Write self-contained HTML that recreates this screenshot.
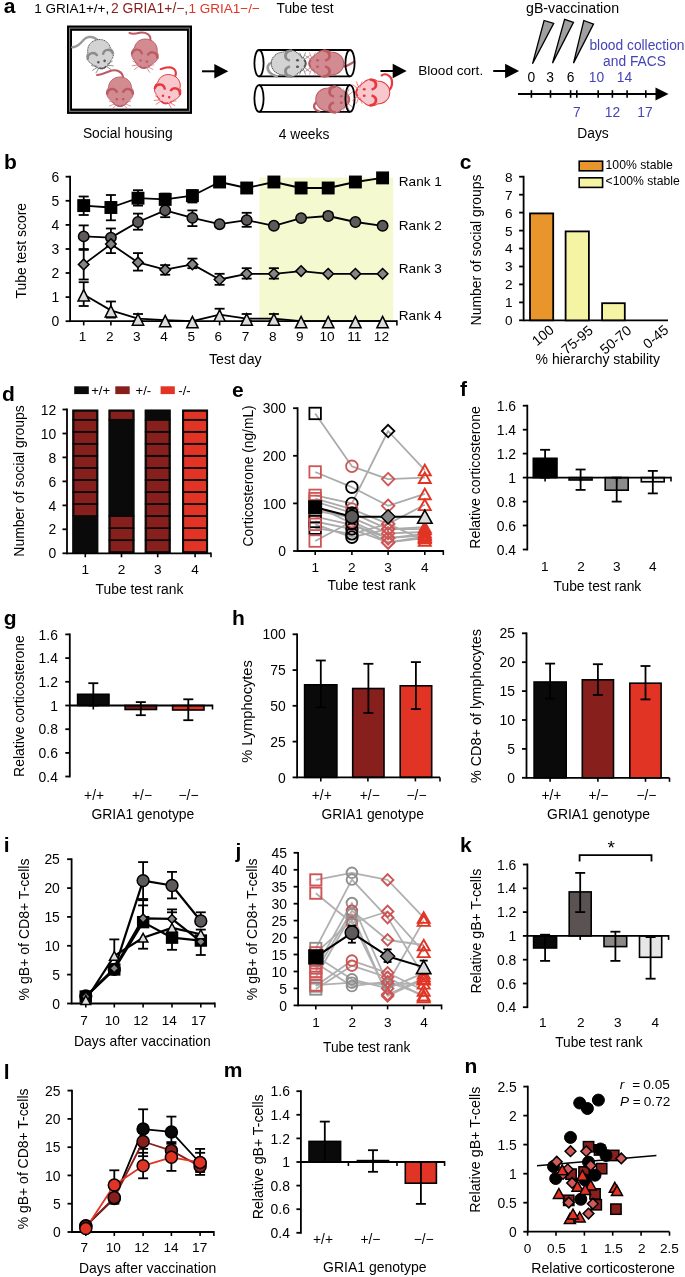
<!DOCTYPE html>
<html><head><meta charset="utf-8"><style>html,body{margin:0;padding:0;background:#fff;}svg{display:block;font-family:"Liberation Sans",sans-serif;will-change:transform;}</style></head><body>
<svg width="685" height="1277" viewBox="0 0 685 1277" font-family="Liberation Sans, sans-serif">
<rect x="0" y="0" width="685" height="1277" fill="#fff"/>
<text x="3.8" y="12.6" font-size="21" text-anchor="start" fill="#000" font-weight="bold">a</text>
<text y="12.9" font-size="13.5"><tspan x="34.2" fill="#000">1 GRIA1+/+,</tspan><tspan x="111.0" fill="#871f1d" font-size="13.9">2 GRIA1+/−,</tspan><tspan x="188.6" fill="#e13424">1 GRIA1−/−</tspan></text>
<text x="276.5" y="13.0" font-size="13.8" text-anchor="start" fill="#000">Tube test</text>
<text x="526.0" y="12.6" font-size="14.2" text-anchor="start" fill="#000">gB-vaccination</text>
<rect x="67.0" y="25.5" width="125.0" height="88.4" fill="#000" stroke="none" stroke-width="1.5"/>
<rect x="72.0" y="30.8" width="115.0" height="77.8" fill="#fff" stroke="none" stroke-width="1.5"/>
<rect x="69.6" y="28.1" width="119.8" height="83.2" fill="none" stroke="#8a8a8a" stroke-width="1"/>
<g transform="translate(100.0,54.5) rotate(-12) scale(1.0,1.0)">
<path d="M1,-14 C-3,-20 -9,-21 -14,-17 C-18,-14 -22,-12 -26,-13" fill="none" stroke="#9a9a9a" stroke-width="2.4" stroke-linecap="round" stroke-dasharray="1.2 0.6"/>
<path d="M0,-15 C7,-15 11.5,-10 11.5,-4 C13.5,-2.5 14,1.5 12.5,4.5 C11.5,6.5 10,7.5 9,8.5 C7,11.5 3.5,14.5 0,14.5 C-3.5,14.5 -7,11.5 -9,8.5 C-10,7.5 -11.5,6.5 -12.5,4.5 C-14,1.5 -13.5,-2.5 -11.5,-4 C-11.5,-10 -7,-15 0,-15 Z" fill="#d3d3d3" stroke="#555555" stroke-width="0.9" stroke-dasharray="1.2 0.6"/>
<path d="M-13,2.5 C-12.5,-4 -5,-5 -2.8,0.8" fill="none" stroke="#8a8a8a" stroke-width="2.4"/>
<path d="M13,2.5 C12.5,-4 5,-5 2.8,0.8" fill="none" stroke="#8a8a8a" stroke-width="2.4"/>
<circle cx="-3.2" cy="7.2" r="1.3" fill="#555555"/><circle cx="3.2" cy="7.2" r="1.3" fill="#555555"/>
<path d="M-3.5,12.8 Q0,15.5 3.5,12.8" fill="none" stroke="#555555" stroke-width="1.5"/>
<path d="M-5,11 L-11,9 M-5,12 L-11,14 M-4,13 L-8,17.5 M5,11 L11,9 M5,12 L11,14 M4,13 L8,17.5" stroke="#555555" stroke-width="0.6" fill="none"/>
</g>
<g transform="translate(145.0,54.0) rotate(10) scale(1.0,1.0)">
<path d="M3,-14 C3,-20 -3,-22 -9,-20 C-13,-18 -16,-17 -19,-18" fill="none" stroke="#bc5b64" stroke-width="2.0" stroke-linecap="round"/>
<path d="M0,-15 C7,-15 11.5,-10 11.5,-4 C13.5,-2.5 14,1.5 12.5,4.5 C11.5,6.5 10,7.5 9,8.5 C7,11.5 3.5,14.5 0,14.5 C-3.5,14.5 -7,11.5 -9,8.5 C-10,7.5 -11.5,6.5 -12.5,4.5 C-14,1.5 -13.5,-2.5 -11.5,-4 C-11.5,-10 -7,-15 0,-15 Z" fill="#d28c91" stroke="#bc5b64" stroke-width="0.9"/>
<path d="M-13,2.5 C-12.5,-4 -5,-5 -2.8,0.8" fill="none" stroke="#bc5b64" stroke-width="2.4"/>
<path d="M13,2.5 C12.5,-4 5,-5 2.8,0.8" fill="none" stroke="#bc5b64" stroke-width="2.4"/>
<circle cx="-3.2" cy="7.2" r="1.3" fill="#bc5b64"/><circle cx="3.2" cy="7.2" r="1.3" fill="#bc5b64"/>
<path d="M-3.5,12.8 Q0,15.5 3.5,12.8" fill="none" stroke="#bc5b64" stroke-width="1.5"/>
<path d="M-5,11 L-11,9 M-5,12 L-11,14 M-4,13 L-8,17.5 M5,11 L11,9 M5,12 L11,14 M4,13 L8,17.5" stroke="#bc5b64" stroke-width="0.6" fill="none"/>
</g>
<g transform="translate(120.0,92.0) rotate(0) scale(1.0,1.0)">
<path d="M3,-14 C3,-20 -3,-23 -10,-21 C-15,-19 -19,-17 -23,-17" fill="none" stroke="#bc5b64" stroke-width="2.0" stroke-linecap="round"/>
<path d="M0,-15 C7,-15 11.5,-10 11.5,-4 C13.5,-2.5 14,1.5 12.5,4.5 C11.5,6.5 10,7.5 9,8.5 C7,11.5 3.5,14.5 0,14.5 C-3.5,14.5 -7,11.5 -9,8.5 C-10,7.5 -11.5,6.5 -12.5,4.5 C-14,1.5 -13.5,-2.5 -11.5,-4 C-11.5,-10 -7,-15 0,-15 Z" fill="#d28c91" stroke="#bc5b64" stroke-width="0.9"/>
<path d="M-13,2.5 C-12.5,-4 -5,-5 -2.8,0.8" fill="none" stroke="#bc5b64" stroke-width="2.4"/>
<path d="M13,2.5 C12.5,-4 5,-5 2.8,0.8" fill="none" stroke="#bc5b64" stroke-width="2.4"/>
<circle cx="-3.2" cy="7.2" r="1.3" fill="#bc5b64"/><circle cx="3.2" cy="7.2" r="1.3" fill="#bc5b64"/>
<path d="M-3.5,12.8 Q0,15.5 3.5,12.8" fill="none" stroke="#bc5b64" stroke-width="1.5"/>
<path d="M-5,11 L-11,9 M-5,12 L-11,14 M-4,13 L-8,17.5 M5,11 L11,9 M5,12 L11,14 M4,13 L8,17.5" stroke="#bc5b64" stroke-width="0.6" fill="none"/>
</g>
<g transform="translate(167.8,89.5) rotate(14) scale(1.0,1.0)">
<path d="M4,-14 C5,-20 1,-23 -4,-22 C-8,-21 -10,-19 -12,-18" fill="none" stroke="#e8383d" stroke-width="2.0" stroke-linecap="round"/>
<path d="M0,-15 C7,-15 11.5,-10 11.5,-4 C13.5,-2.5 14,1.5 12.5,4.5 C11.5,6.5 10,7.5 9,8.5 C7,11.5 3.5,14.5 0,14.5 C-3.5,14.5 -7,11.5 -9,8.5 C-10,7.5 -11.5,6.5 -12.5,4.5 C-14,1.5 -13.5,-2.5 -11.5,-4 C-11.5,-10 -7,-15 0,-15 Z" fill="#f7c9ce" stroke="#e8383d" stroke-width="0.9"/>
<path d="M-13,2.5 C-12.5,-4 -5,-5 -2.8,0.8" fill="none" stroke="#e8383d" stroke-width="2.4"/>
<path d="M13,2.5 C12.5,-4 5,-5 2.8,0.8" fill="none" stroke="#e8383d" stroke-width="2.4"/>
<circle cx="-3.2" cy="7.2" r="1.3" fill="#e8383d"/><circle cx="3.2" cy="7.2" r="1.3" fill="#e8383d"/>
<path d="M-3.5,12.8 Q0,15.5 3.5,12.8" fill="none" stroke="#e8383d" stroke-width="1.5"/>
<path d="M-5,11 L-11,9 M-5,12 L-11,14 M-4,13 L-8,17.5 M5,11 L11,9 M5,12 L11,14 M4,13 L8,17.5" stroke="#e8383d" stroke-width="0.6" fill="none"/>
</g>
<text x="127.8" y="138.0" font-size="13.8" text-anchor="middle" fill="#000">Social housing</text>
<line x1="202.0" y1="71.3" x2="215.3" y2="71.3" stroke="#000" stroke-width="2.0"/>
<polygon points="228.3,71.3 214.3,64.0 214.3,78.6" fill="#000"/>
<path d="M259.0,50.0 L350.0,50.0 M259.0,76.4 L350.0,76.4" stroke="#000" stroke-width="1.8" fill="none"/>
<ellipse cx="259.0" cy="63.2" rx="4.6" ry="13.2" fill="none" stroke="#000" stroke-width="1.8"/>
<path d="M259.0,85.1 L350.0,85.1 M259.0,111.9 L350.0,111.9" stroke="#000" stroke-width="1.8" fill="none"/>
<ellipse cx="259.0" cy="98.5" rx="4.6" ry="13.4" fill="none" stroke="#000" stroke-width="1.8"/>
<g transform="translate(289.0,63.5) rotate(-90) scale(1.0,1.18)">
<path d="M1,-14 C0,-18 -4,-19 -8,-17 C-11,-15 -12,-12 -13,-10" fill="none" stroke="#9a9a9a" stroke-width="2.4" stroke-linecap="round" stroke-dasharray="1.2 0.6"/>
<path d="M0,-15 C7,-15 11.5,-10 11.5,-4 C13.5,-2.5 14,1.5 12.5,4.5 C11.5,6.5 10,7.5 9,8.5 C7,11.5 3.5,14.5 0,14.5 C-3.5,14.5 -7,11.5 -9,8.5 C-10,7.5 -11.5,6.5 -12.5,4.5 C-14,1.5 -13.5,-2.5 -11.5,-4 C-11.5,-10 -7,-15 0,-15 Z" fill="#d3d3d3" stroke="#555555" stroke-width="0.9" stroke-dasharray="1.2 0.6"/>
<path d="M-13,2.5 C-12.5,-4 -5,-5 -2.8,0.8" fill="none" stroke="#8a8a8a" stroke-width="2.4"/>
<path d="M13,2.5 C12.5,-4 5,-5 2.8,0.8" fill="none" stroke="#8a8a8a" stroke-width="2.4"/>
<circle cx="-3.2" cy="7.2" r="1.3" fill="#555555"/><circle cx="3.2" cy="7.2" r="1.3" fill="#555555"/>
<path d="M-3.5,12.8 Q0,15.5 3.5,12.8" fill="none" stroke="#555555" stroke-width="1.5"/>
<path d="M-5,11 L-11,9 M-5,12 L-11,14 M-4,13 L-8,17.5 M5,11 L11,9 M5,12 L11,14 M4,13 L8,17.5" stroke="#555555" stroke-width="0.6" fill="none"/>
</g>
<g transform="translate(326.0,63.5) rotate(90) scale(1.0,1.18)">
<path d="M3,-14 C3,-19 0,-21 -2,-24" fill="none" stroke="#bc5b64" stroke-width="2.0" stroke-linecap="round"/>
<path d="M0,-15 C7,-15 11.5,-10 11.5,-4 C13.5,-2.5 14,1.5 12.5,4.5 C11.5,6.5 10,7.5 9,8.5 C7,11.5 3.5,14.5 0,14.5 C-3.5,14.5 -7,11.5 -9,8.5 C-10,7.5 -11.5,6.5 -12.5,4.5 C-14,1.5 -13.5,-2.5 -11.5,-4 C-11.5,-10 -7,-15 0,-15 Z" fill="#d28c91" stroke="#bc5b64" stroke-width="0.9"/>
<path d="M-13,2.5 C-12.5,-4 -5,-5 -2.8,0.8" fill="none" stroke="#bc5b64" stroke-width="2.4"/>
<path d="M13,2.5 C12.5,-4 5,-5 2.8,0.8" fill="none" stroke="#bc5b64" stroke-width="2.4"/>
<circle cx="-3.2" cy="7.2" r="1.3" fill="#bc5b64"/><circle cx="3.2" cy="7.2" r="1.3" fill="#bc5b64"/>
<path d="M-3.5,12.8 Q0,15.5 3.5,12.8" fill="none" stroke="#bc5b64" stroke-width="1.5"/>
<path d="M-5,11 L-11,9 M-5,12 L-11,14 M-4,13 L-8,17.5 M5,11 L11,9 M5,12 L11,14 M4,13 L8,17.5" stroke="#bc5b64" stroke-width="0.6" fill="none"/>
</g>
<ellipse cx="350.0" cy="63.2" rx="4.6" ry="13.2" fill="none" stroke="#000" stroke-width="1.8"/>
<g transform="translate(333.0,99.5) rotate(-90) scale(1.0,1.15)">
<path d="M-2,-14 C-6,-18 -10,-17 -12,-12" fill="none" stroke="#bc5b64" stroke-width="2.0" stroke-linecap="round"/>
<path d="M0,-15 C7,-15 11.5,-10 11.5,-4 C13.5,-2.5 14,1.5 12.5,4.5 C11.5,6.5 10,7.5 9,8.5 C7,11.5 3.5,14.5 0,14.5 C-3.5,14.5 -7,11.5 -9,8.5 C-10,7.5 -11.5,6.5 -12.5,4.5 C-14,1.5 -13.5,-2.5 -11.5,-4 C-11.5,-10 -7,-15 0,-15 Z" fill="#d28c91" stroke="#bc5b64" stroke-width="0.9"/>
<path d="M-13,2.5 C-12.5,-4 -5,-5 -2.8,0.8" fill="none" stroke="#bc5b64" stroke-width="2.4"/>
<path d="M13,2.5 C12.5,-4 5,-5 2.8,0.8" fill="none" stroke="#bc5b64" stroke-width="2.4"/>
<circle cx="-3.2" cy="7.2" r="1.3" fill="#bc5b64"/><circle cx="3.2" cy="7.2" r="1.3" fill="#bc5b64"/>
<path d="M-3.5,12.8 Q0,15.5 3.5,12.8" fill="none" stroke="#bc5b64" stroke-width="1.5"/>
<path d="M-5,11 L-11,9 M-5,12 L-11,14 M-4,13 L-8,17.5 M5,11 L11,9 M5,12 L11,14 M4,13 L8,17.5" stroke="#bc5b64" stroke-width="0.6" fill="none"/>
</g>
<ellipse cx="350.0" cy="98.5" rx="4.6" ry="13.4" fill="none" stroke="#000" stroke-width="1.8"/>
<g transform="translate(372.5,92.5) rotate(90) scale(1.0,1.15)">
<path d="M-2,-14 C-6,-18 -14,-18 -17,-14 C-19,-11 -18,-9 -17,-8" fill="none" stroke="#e8383d" stroke-width="2.0" stroke-linecap="round"/>
<path d="M0,-15 C7,-15 11.5,-10 11.5,-4 C13.5,-2.5 14,1.5 12.5,4.5 C11.5,6.5 10,7.5 9,8.5 C7,11.5 3.5,14.5 0,14.5 C-3.5,14.5 -7,11.5 -9,8.5 C-10,7.5 -11.5,6.5 -12.5,4.5 C-14,1.5 -13.5,-2.5 -11.5,-4 C-11.5,-10 -7,-15 0,-15 Z" fill="#f7c9ce" stroke="#e8383d" stroke-width="0.9"/>
<path d="M-13,2.5 C-12.5,-4 -5,-5 -2.8,0.8" fill="none" stroke="#e8383d" stroke-width="2.4"/>
<path d="M13,2.5 C12.5,-4 5,-5 2.8,0.8" fill="none" stroke="#e8383d" stroke-width="2.4"/>
<circle cx="-3.2" cy="7.2" r="1.3" fill="#e8383d"/><circle cx="3.2" cy="7.2" r="1.3" fill="#e8383d"/>
<path d="M-3.5,12.8 Q0,15.5 3.5,12.8" fill="none" stroke="#e8383d" stroke-width="1.5"/>
<path d="M-5,11 L-11,9 M-5,12 L-11,14 M-4,13 L-8,17.5 M5,11 L11,9 M5,12 L11,14 M4,13 L8,17.5" stroke="#e8383d" stroke-width="0.6" fill="none"/>
</g>
<text x="278.7" y="138.5" font-size="13.8" text-anchor="start" fill="#000">4 weeks</text>
<line x1="380.5" y1="71.0" x2="393.7" y2="71.0" stroke="#000" stroke-width="2.0"/>
<polygon points="406.7,71.0 392.7,63.7 392.7,78.3" fill="#000"/>
<text x="418.2" y="74.7" font-size="13.6" text-anchor="start" fill="#000">Blood cort.</text>
<line x1="493.2" y1="71.0" x2="506.1" y2="71.0" stroke="#000" stroke-width="2.0"/>
<polygon points="519.1,71.0 505.1,63.7 505.1,78.3" fill="#000"/>
<polygon points="532.5,63.8 544.1,20.5 553.7,23.4" fill="#a0a0a0" stroke="#000" stroke-width="1.3" stroke-linejoin="miter"/>
<polygon points="552.5,63.1 564.6,19.3 573.5,22.4" fill="#a0a0a0" stroke="#000" stroke-width="1.3" stroke-linejoin="miter"/>
<polygon points="573.5,63.1 583.8,20.5 593.5,24.1" fill="#a0a0a0" stroke="#000" stroke-width="1.3" stroke-linejoin="miter"/>
<text x="589.4" y="49.9" font-size="13.8" text-anchor="start" fill="#4444b6">blood collection</text>
<text x="603.1" y="66.3" font-size="13.8" text-anchor="start" fill="#4444b6">and FACS</text>
<text x="531.4" y="82.0" font-size="13.8" text-anchor="middle" fill="#000">0</text>
<text x="550.2" y="82.0" font-size="13.8" text-anchor="middle" fill="#000">3</text>
<text x="570.5" y="82.0" font-size="13.8" text-anchor="middle" fill="#000">6</text>
<text x="596.5" y="82.0" font-size="13.8" text-anchor="middle" fill="#4444b6">10</text>
<text x="624.5" y="82.0" font-size="13.8" text-anchor="middle" fill="#4444b6">14</text>
<line x1="518.0" y1="94.0" x2="658.0" y2="94.0" stroke="#000" stroke-width="2.0"/>
<polygon points="668.5,94 655.5,87.5 655.5,100.5" fill="#000"/>
<line x1="531.4" y1="90.2" x2="531.4" y2="97.8" stroke="#000" stroke-width="1.6"/>
<line x1="550.5" y1="90.2" x2="550.5" y2="97.8" stroke="#000" stroke-width="1.6"/>
<line x1="570.6" y1="90.2" x2="570.6" y2="97.8" stroke="#000" stroke-width="1.6"/>
<line x1="576.8" y1="90.2" x2="576.8" y2="97.8" stroke="#000" stroke-width="1.6"/>
<line x1="598.2" y1="90.2" x2="598.2" y2="97.8" stroke="#000" stroke-width="1.6"/>
<line x1="612.4" y1="90.2" x2="612.4" y2="97.8" stroke="#000" stroke-width="1.6"/>
<line x1="627.1" y1="90.2" x2="627.1" y2="97.8" stroke="#000" stroke-width="1.6"/>
<line x1="645.8" y1="90.2" x2="645.8" y2="97.8" stroke="#000" stroke-width="1.6"/>
<text x="576.8" y="116.5" font-size="13.8" text-anchor="middle" fill="#4444b6">7</text>
<text x="612.4" y="116.5" font-size="13.8" text-anchor="middle" fill="#4444b6">12</text>
<text x="645.0" y="116.5" font-size="13.8" text-anchor="middle" fill="#4444b6">17</text>
<text x="593.0" y="138.0" font-size="13.8" text-anchor="middle" fill="#000">Days</text>
<text x="4.1" y="168.8" font-size="21" text-anchor="start" fill="#000" font-weight="bold">b</text>
<rect x="259.4" y="177.6" width="133.8" height="143.6" fill="#f5f9cf" stroke="none" stroke-width="1.5"/>
<line x1="70.1" y1="175.8" x2="70.1" y2="322.1" stroke="#000" stroke-width="1.8"/>
<line x1="65.6" y1="321.2" x2="70.1" y2="321.2" stroke="#000" stroke-width="1.8"/>
<text x="51.5" y="326.3" font-size="13.9" text-anchor="start" fill="#000">0</text>
<line x1="65.6" y1="297.1" x2="70.1" y2="297.1" stroke="#000" stroke-width="1.8"/>
<text x="51.5" y="302.2" font-size="13.9" text-anchor="start" fill="#000">1</text>
<line x1="65.6" y1="273.0" x2="70.1" y2="273.0" stroke="#000" stroke-width="1.8"/>
<text x="51.5" y="278.1" font-size="13.9" text-anchor="start" fill="#000">2</text>
<line x1="65.6" y1="249.0" x2="70.1" y2="249.0" stroke="#000" stroke-width="1.8"/>
<text x="51.5" y="254.1" font-size="13.9" text-anchor="start" fill="#000">3</text>
<line x1="65.6" y1="224.9" x2="70.1" y2="224.9" stroke="#000" stroke-width="1.8"/>
<text x="51.5" y="230.0" font-size="13.9" text-anchor="start" fill="#000">4</text>
<line x1="65.6" y1="200.8" x2="70.1" y2="200.8" stroke="#000" stroke-width="1.8"/>
<text x="51.5" y="205.9" font-size="13.9" text-anchor="start" fill="#000">5</text>
<line x1="65.6" y1="176.7" x2="70.1" y2="176.7" stroke="#000" stroke-width="1.8"/>
<text x="51.5" y="181.8" font-size="13.9" text-anchor="start" fill="#000">6</text>
<line x1="70.1" y1="321.2" x2="396.9" y2="321.2" stroke="#000" stroke-width="1.8"/>
<line x1="396.9" y1="320.3" x2="396.9" y2="325.4" stroke="#000" stroke-width="1.6"/>
<line x1="83.7" y1="321.2" x2="83.7" y2="325.4" stroke="#000" stroke-width="1.6"/>
<text x="82.5" y="341.0" font-size="13.6" text-anchor="middle" fill="#000">1</text>
<line x1="110.9" y1="321.2" x2="110.9" y2="325.4" stroke="#000" stroke-width="1.6"/>
<text x="109.7" y="341.0" font-size="13.6" text-anchor="middle" fill="#000">2</text>
<line x1="138.0" y1="321.2" x2="138.0" y2="325.4" stroke="#000" stroke-width="1.6"/>
<text x="136.8" y="341.0" font-size="13.6" text-anchor="middle" fill="#000">3</text>
<line x1="165.2" y1="321.2" x2="165.2" y2="325.4" stroke="#000" stroke-width="1.6"/>
<text x="164.0" y="341.0" font-size="13.6" text-anchor="middle" fill="#000">4</text>
<line x1="192.4" y1="321.2" x2="192.4" y2="325.4" stroke="#000" stroke-width="1.6"/>
<text x="191.2" y="341.0" font-size="13.6" text-anchor="middle" fill="#000">5</text>
<line x1="219.6" y1="321.2" x2="219.6" y2="325.4" stroke="#000" stroke-width="1.6"/>
<text x="218.4" y="341.0" font-size="13.6" text-anchor="middle" fill="#000">6</text>
<line x1="246.7" y1="321.2" x2="246.7" y2="325.4" stroke="#000" stroke-width="1.6"/>
<text x="245.5" y="341.0" font-size="13.6" text-anchor="middle" fill="#000">7</text>
<line x1="273.9" y1="321.2" x2="273.9" y2="325.4" stroke="#000" stroke-width="1.6"/>
<text x="272.7" y="341.0" font-size="13.6" text-anchor="middle" fill="#000">8</text>
<line x1="301.1" y1="321.2" x2="301.1" y2="325.4" stroke="#000" stroke-width="1.6"/>
<text x="299.9" y="341.0" font-size="13.6" text-anchor="middle" fill="#000">9</text>
<line x1="328.2" y1="321.2" x2="328.2" y2="325.4" stroke="#000" stroke-width="1.6"/>
<text x="327.0" y="341.0" font-size="13.6" text-anchor="middle" fill="#000">10</text>
<line x1="355.4" y1="321.2" x2="355.4" y2="325.4" stroke="#000" stroke-width="1.6"/>
<text x="354.2" y="341.0" font-size="13.6" text-anchor="middle" fill="#000">11</text>
<line x1="382.6" y1="321.2" x2="382.6" y2="325.4" stroke="#000" stroke-width="1.6"/>
<text x="381.4" y="341.0" font-size="13.6" text-anchor="middle" fill="#000">12</text>
<text x="209.0" y="363.8" font-size="14.15" text-anchor="start" fill="#000">Test day</text>
<text font-size="13.93" fill="#000" transform="translate(25.58,298.40) rotate(-90)">Tube test score</text>
<text x="398.8" y="186.0" font-size="13.6" text-anchor="start" fill="#000">Rank 1</text>
<text x="398.8" y="229.6" font-size="13.6" text-anchor="start" fill="#000">Rank 2</text>
<text x="398.8" y="272.8" font-size="13.6" text-anchor="start" fill="#000">Rank 3</text>
<text x="398.8" y="320.2" font-size="13.6" text-anchor="start" fill="#000">Rank 4</text>
<line x1="83.7" y1="196.5" x2="83.7" y2="215.0" stroke="#000" stroke-width="1.8"/>
<line x1="78.7" y1="196.5" x2="88.7" y2="196.5" stroke="#000" stroke-width="1.8"/>
<line x1="78.7" y1="215.0" x2="88.7" y2="215.0" stroke="#000" stroke-width="1.8"/>
<line x1="110.9" y1="195.0" x2="110.9" y2="220.3" stroke="#000" stroke-width="1.8"/>
<line x1="105.9" y1="195.0" x2="115.9" y2="195.0" stroke="#000" stroke-width="1.8"/>
<line x1="105.9" y1="220.3" x2="115.9" y2="220.3" stroke="#000" stroke-width="1.8"/>
<line x1="138.0" y1="190.2" x2="138.0" y2="205.6" stroke="#000" stroke-width="1.8"/>
<line x1="133.0" y1="190.2" x2="143.0" y2="190.2" stroke="#000" stroke-width="1.8"/>
<line x1="133.0" y1="205.6" x2="143.0" y2="205.6" stroke="#000" stroke-width="1.8"/>
<line x1="165.2" y1="193.6" x2="165.2" y2="204.4" stroke="#000" stroke-width="1.8"/>
<line x1="160.2" y1="193.6" x2="170.2" y2="193.6" stroke="#000" stroke-width="1.8"/>
<line x1="160.2" y1="204.4" x2="170.2" y2="204.4" stroke="#000" stroke-width="1.8"/>
<line x1="192.4" y1="190.2" x2="192.4" y2="202.5" stroke="#000" stroke-width="1.8"/>
<line x1="187.4" y1="190.2" x2="197.4" y2="190.2" stroke="#000" stroke-width="1.8"/>
<line x1="187.4" y1="202.5" x2="197.4" y2="202.5" stroke="#000" stroke-width="1.8"/>
<line x1="83.7" y1="225.4" x2="83.7" y2="249.0" stroke="#000" stroke-width="1.8"/>
<line x1="78.7" y1="225.4" x2="88.7" y2="225.4" stroke="#000" stroke-width="1.8"/>
<line x1="78.7" y1="249.0" x2="88.7" y2="249.0" stroke="#000" stroke-width="1.8"/>
<line x1="110.9" y1="228.5" x2="110.9" y2="246.6" stroke="#000" stroke-width="1.8"/>
<line x1="105.9" y1="228.5" x2="115.9" y2="228.5" stroke="#000" stroke-width="1.8"/>
<line x1="105.9" y1="246.6" x2="115.9" y2="246.6" stroke="#000" stroke-width="1.8"/>
<line x1="138.0" y1="213.6" x2="138.0" y2="229.7" stroke="#000" stroke-width="1.8"/>
<line x1="133.0" y1="213.6" x2="143.0" y2="213.6" stroke="#000" stroke-width="1.8"/>
<line x1="133.0" y1="229.7" x2="143.0" y2="229.7" stroke="#000" stroke-width="1.8"/>
<line x1="165.2" y1="202.7" x2="165.2" y2="217.2" stroke="#000" stroke-width="1.8"/>
<line x1="160.2" y1="202.7" x2="170.2" y2="202.7" stroke="#000" stroke-width="1.8"/>
<line x1="160.2" y1="217.2" x2="170.2" y2="217.2" stroke="#000" stroke-width="1.8"/>
<line x1="192.4" y1="210.4" x2="192.4" y2="226.1" stroke="#000" stroke-width="1.8"/>
<line x1="187.4" y1="210.4" x2="197.4" y2="210.4" stroke="#000" stroke-width="1.8"/>
<line x1="187.4" y1="226.1" x2="197.4" y2="226.1" stroke="#000" stroke-width="1.8"/>
<line x1="246.7" y1="212.8" x2="246.7" y2="226.8" stroke="#000" stroke-width="1.8"/>
<line x1="241.7" y1="212.8" x2="251.7" y2="212.8" stroke="#000" stroke-width="1.8"/>
<line x1="241.7" y1="226.8" x2="251.7" y2="226.8" stroke="#000" stroke-width="1.8"/>
<line x1="328.2" y1="212.8" x2="328.2" y2="218.9" stroke="#000" stroke-width="1.8"/>
<line x1="323.2" y1="212.8" x2="333.2" y2="212.8" stroke="#000" stroke-width="1.8"/>
<line x1="323.2" y1="218.9" x2="333.2" y2="218.9" stroke="#000" stroke-width="1.8"/>
<line x1="273.9" y1="223.7" x2="273.9" y2="228.0" stroke="#000" stroke-width="1.8"/>
<line x1="268.9" y1="223.7" x2="278.9" y2="223.7" stroke="#000" stroke-width="1.8"/>
<line x1="268.9" y1="228.0" x2="278.9" y2="228.0" stroke="#000" stroke-width="1.8"/>
<line x1="83.7" y1="249.9" x2="83.7" y2="279.5" stroke="#000" stroke-width="1.8"/>
<line x1="78.7" y1="249.9" x2="88.7" y2="249.9" stroke="#000" stroke-width="1.8"/>
<line x1="78.7" y1="279.5" x2="88.7" y2="279.5" stroke="#000" stroke-width="1.8"/>
<line x1="110.9" y1="235.7" x2="110.9" y2="253.1" stroke="#000" stroke-width="1.8"/>
<line x1="105.9" y1="235.7" x2="115.9" y2="235.7" stroke="#000" stroke-width="1.8"/>
<line x1="105.9" y1="253.1" x2="115.9" y2="253.1" stroke="#000" stroke-width="1.8"/>
<line x1="138.0" y1="253.1" x2="138.0" y2="270.6" stroke="#000" stroke-width="1.8"/>
<line x1="133.0" y1="253.1" x2="143.0" y2="253.1" stroke="#000" stroke-width="1.8"/>
<line x1="133.0" y1="270.6" x2="143.0" y2="270.6" stroke="#000" stroke-width="1.8"/>
<line x1="165.2" y1="265.1" x2="165.2" y2="274.7" stroke="#000" stroke-width="1.8"/>
<line x1="160.2" y1="265.1" x2="170.2" y2="265.1" stroke="#000" stroke-width="1.8"/>
<line x1="160.2" y1="274.7" x2="170.2" y2="274.7" stroke="#000" stroke-width="1.8"/>
<line x1="192.4" y1="258.6" x2="192.4" y2="268.2" stroke="#000" stroke-width="1.8"/>
<line x1="187.4" y1="258.6" x2="197.4" y2="258.6" stroke="#000" stroke-width="1.8"/>
<line x1="187.4" y1="268.2" x2="197.4" y2="268.2" stroke="#000" stroke-width="1.8"/>
<line x1="219.6" y1="273.8" x2="219.6" y2="284.8" stroke="#000" stroke-width="1.8"/>
<line x1="214.6" y1="273.8" x2="224.6" y2="273.8" stroke="#000" stroke-width="1.8"/>
<line x1="214.6" y1="284.8" x2="224.6" y2="284.8" stroke="#000" stroke-width="1.8"/>
<line x1="246.7" y1="268.2" x2="246.7" y2="278.6" stroke="#000" stroke-width="1.8"/>
<line x1="241.7" y1="268.2" x2="251.7" y2="268.2" stroke="#000" stroke-width="1.8"/>
<line x1="241.7" y1="278.6" x2="251.7" y2="278.6" stroke="#000" stroke-width="1.8"/>
<line x1="273.9" y1="268.2" x2="273.9" y2="278.6" stroke="#000" stroke-width="1.8"/>
<line x1="268.9" y1="268.2" x2="278.9" y2="268.2" stroke="#000" stroke-width="1.8"/>
<line x1="268.9" y1="278.6" x2="278.9" y2="278.6" stroke="#000" stroke-width="1.8"/>
<line x1="83.7" y1="282.2" x2="83.7" y2="306.0" stroke="#000" stroke-width="1.8"/>
<line x1="78.7" y1="282.2" x2="88.7" y2="282.2" stroke="#000" stroke-width="1.8"/>
<line x1="78.7" y1="306.0" x2="88.7" y2="306.0" stroke="#000" stroke-width="1.8"/>
<line x1="110.9" y1="301.5" x2="110.9" y2="317.6" stroke="#000" stroke-width="1.8"/>
<line x1="105.9" y1="301.5" x2="115.9" y2="301.5" stroke="#000" stroke-width="1.8"/>
<line x1="105.9" y1="317.6" x2="115.9" y2="317.6" stroke="#000" stroke-width="1.8"/>
<line x1="138.0" y1="314.0" x2="138.0" y2="321.2" stroke="#000" stroke-width="1.8"/>
<line x1="133.0" y1="314.0" x2="143.0" y2="314.0" stroke="#000" stroke-width="1.8"/>
<line x1="133.0" y1="321.2" x2="143.0" y2="321.2" stroke="#000" stroke-width="1.8"/>
<line x1="219.6" y1="308.7" x2="219.6" y2="320.0" stroke="#000" stroke-width="1.8"/>
<line x1="214.6" y1="308.7" x2="224.6" y2="308.7" stroke="#000" stroke-width="1.8"/>
<line x1="214.6" y1="320.0" x2="224.6" y2="320.0" stroke="#000" stroke-width="1.8"/>
<line x1="246.7" y1="314.0" x2="246.7" y2="320.7" stroke="#000" stroke-width="1.8"/>
<line x1="241.7" y1="314.0" x2="251.7" y2="314.0" stroke="#000" stroke-width="1.8"/>
<line x1="241.7" y1="320.7" x2="251.7" y2="320.7" stroke="#000" stroke-width="1.8"/>
<line x1="273.9" y1="314.0" x2="273.9" y2="320.7" stroke="#000" stroke-width="1.8"/>
<line x1="268.9" y1="314.0" x2="278.9" y2="314.0" stroke="#000" stroke-width="1.8"/>
<line x1="268.9" y1="320.7" x2="278.9" y2="320.7" stroke="#000" stroke-width="1.8"/>
<polyline points="83.7,205.6 110.9,207.5 138.0,198.2 165.2,199.4 192.4,195.7 219.6,182.0 246.7,188.0 273.9,182.0 301.1,188.0 328.2,188.0 355.4,182.0 382.6,177.9" fill="none" stroke="#000" stroke-width="1.8" stroke-linejoin="round"/>
<polyline points="83.7,236.4 110.9,237.6 138.0,222.0 165.2,210.4 192.4,217.9 219.6,224.2 246.7,220.1 273.9,225.8 301.1,218.1 328.2,216.0 355.4,222.0 382.6,225.8" fill="none" stroke="#000" stroke-width="1.8" stroke-linejoin="round"/>
<polyline points="83.7,264.4 110.9,244.1 138.0,262.4 165.2,269.7 192.4,264.4 219.6,279.5 246.7,273.8 273.9,273.8 301.1,271.1 328.2,273.8 355.4,273.8 382.6,273.8" fill="none" stroke="#000" stroke-width="1.8" stroke-linejoin="round"/>
<polyline points="83.7,294.5 110.9,310.4 138.0,318.6 165.2,320.2 192.4,321.2 219.6,314.7 246.7,318.6 273.9,318.6 301.1,321.2 328.2,321.2 355.4,321.2 382.6,321.2" fill="none" stroke="#000" stroke-width="1.8" stroke-linejoin="round"/>
<rect x="78.0" y="199.9" width="11.4" height="11.4" fill="#000" stroke="#000" stroke-width="1.5"/>
<rect x="105.2" y="201.8" width="11.4" height="11.4" fill="#000" stroke="#000" stroke-width="1.5"/>
<rect x="132.3" y="192.5" width="11.4" height="11.4" fill="#000" stroke="#000" stroke-width="1.5"/>
<rect x="159.5" y="193.7" width="11.4" height="11.4" fill="#000" stroke="#000" stroke-width="1.5"/>
<rect x="186.7" y="190.0" width="11.4" height="11.4" fill="#000" stroke="#000" stroke-width="1.5"/>
<rect x="213.9" y="176.3" width="11.4" height="11.4" fill="#000" stroke="#000" stroke-width="1.5"/>
<rect x="241.0" y="182.3" width="11.4" height="11.4" fill="#000" stroke="#000" stroke-width="1.5"/>
<rect x="268.2" y="176.3" width="11.4" height="11.4" fill="#000" stroke="#000" stroke-width="1.5"/>
<rect x="295.4" y="182.3" width="11.4" height="11.4" fill="#000" stroke="#000" stroke-width="1.5"/>
<rect x="322.5" y="182.3" width="11.4" height="11.4" fill="#000" stroke="#000" stroke-width="1.5"/>
<rect x="349.7" y="176.3" width="11.4" height="11.4" fill="#000" stroke="#000" stroke-width="1.5"/>
<rect x="376.9" y="172.2" width="11.4" height="11.4" fill="#000" stroke="#000" stroke-width="1.5"/>
<circle cx="83.7" cy="236.4" r="5.2" fill="#5f5a5a" stroke="#000" stroke-width="1.5"/>
<circle cx="110.9" cy="237.6" r="5.2" fill="#5f5a5a" stroke="#000" stroke-width="1.5"/>
<circle cx="138.0" cy="222.0" r="5.2" fill="#5f5a5a" stroke="#000" stroke-width="1.5"/>
<circle cx="165.2" cy="210.4" r="5.2" fill="#5f5a5a" stroke="#000" stroke-width="1.5"/>
<circle cx="192.4" cy="217.9" r="5.2" fill="#5f5a5a" stroke="#000" stroke-width="1.5"/>
<circle cx="219.6" cy="224.2" r="5.2" fill="#5f5a5a" stroke="#000" stroke-width="1.5"/>
<circle cx="246.7" cy="220.1" r="5.2" fill="#5f5a5a" stroke="#000" stroke-width="1.5"/>
<circle cx="273.9" cy="225.8" r="5.2" fill="#5f5a5a" stroke="#000" stroke-width="1.5"/>
<circle cx="301.1" cy="218.1" r="5.2" fill="#5f5a5a" stroke="#000" stroke-width="1.5"/>
<circle cx="328.2" cy="216.0" r="5.2" fill="#5f5a5a" stroke="#000" stroke-width="1.5"/>
<circle cx="355.4" cy="222.0" r="5.2" fill="#5f5a5a" stroke="#000" stroke-width="1.5"/>
<circle cx="382.6" cy="225.8" r="5.2" fill="#5f5a5a" stroke="#000" stroke-width="1.5"/>
<polygon points="83.7,259.1 89.0,264.4 83.7,269.7 78.4,264.4" fill="#858585" stroke="#000" stroke-width="1.5" stroke-linejoin="miter"/>
<polygon points="110.9,238.8 116.2,244.1 110.9,249.4 105.6,244.1" fill="#858585" stroke="#000" stroke-width="1.5" stroke-linejoin="miter"/>
<polygon points="138.0,257.1 143.3,262.4 138.0,267.7 132.7,262.4" fill="#858585" stroke="#000" stroke-width="1.5" stroke-linejoin="miter"/>
<polygon points="165.2,264.4 170.5,269.7 165.2,275.0 159.9,269.7" fill="#858585" stroke="#000" stroke-width="1.5" stroke-linejoin="miter"/>
<polygon points="192.4,259.1 197.7,264.4 192.4,269.7 187.1,264.4" fill="#858585" stroke="#000" stroke-width="1.5" stroke-linejoin="miter"/>
<polygon points="219.6,274.2 224.9,279.5 219.6,284.8 214.2,279.5" fill="#858585" stroke="#000" stroke-width="1.5" stroke-linejoin="miter"/>
<polygon points="246.7,268.5 252.0,273.8 246.7,279.1 241.4,273.8" fill="#858585" stroke="#000" stroke-width="1.5" stroke-linejoin="miter"/>
<polygon points="273.9,268.5 279.2,273.8 273.9,279.1 268.6,273.8" fill="#858585" stroke="#000" stroke-width="1.5" stroke-linejoin="miter"/>
<polygon points="301.1,265.8 306.4,271.1 301.1,276.4 295.8,271.1" fill="#858585" stroke="#000" stroke-width="1.5" stroke-linejoin="miter"/>
<polygon points="328.2,268.5 333.5,273.8 328.2,279.1 322.9,273.8" fill="#858585" stroke="#000" stroke-width="1.5" stroke-linejoin="miter"/>
<polygon points="355.4,268.5 360.7,273.8 355.4,279.1 350.1,273.8" fill="#858585" stroke="#000" stroke-width="1.5" stroke-linejoin="miter"/>
<polygon points="382.6,268.5 387.9,273.8 382.6,279.1 377.3,273.8" fill="#858585" stroke="#000" stroke-width="1.5" stroke-linejoin="miter"/>
<polygon points="83.7,289.7 89.4,301.1 78.0,301.1" fill="#dcdcdc" stroke="#000" stroke-width="1.5" stroke-linejoin="miter"/>
<polygon points="110.9,305.6 116.6,317.0 105.2,317.0" fill="#dcdcdc" stroke="#000" stroke-width="1.5" stroke-linejoin="miter"/>
<polygon points="138.0,313.8 143.7,325.2 132.3,325.2" fill="#dcdcdc" stroke="#000" stroke-width="1.5" stroke-linejoin="miter"/>
<polygon points="165.2,315.4 170.9,326.8 159.5,326.8" fill="#dcdcdc" stroke="#000" stroke-width="1.5" stroke-linejoin="miter"/>
<polygon points="192.4,316.4 198.1,327.8 186.7,327.8" fill="#dcdcdc" stroke="#000" stroke-width="1.5" stroke-linejoin="miter"/>
<polygon points="219.6,309.9 225.2,321.3 213.9,321.3" fill="#dcdcdc" stroke="#000" stroke-width="1.5" stroke-linejoin="miter"/>
<polygon points="246.7,313.8 252.4,325.2 241.0,325.2" fill="#dcdcdc" stroke="#000" stroke-width="1.5" stroke-linejoin="miter"/>
<polygon points="273.9,313.8 279.6,325.2 268.2,325.2" fill="#dcdcdc" stroke="#000" stroke-width="1.5" stroke-linejoin="miter"/>
<polygon points="301.1,316.4 306.8,327.8 295.4,327.8" fill="#dcdcdc" stroke="#000" stroke-width="1.5" stroke-linejoin="miter"/>
<polygon points="328.2,316.4 333.9,327.8 322.5,327.8" fill="#dcdcdc" stroke="#000" stroke-width="1.5" stroke-linejoin="miter"/>
<polygon points="355.4,316.4 361.1,327.8 349.7,327.8" fill="#dcdcdc" stroke="#000" stroke-width="1.5" stroke-linejoin="miter"/>
<polygon points="382.6,316.4 388.3,327.8 376.9,327.8" fill="#dcdcdc" stroke="#000" stroke-width="1.5" stroke-linejoin="miter"/>
<text x="459.7" y="168.8" font-size="21" text-anchor="start" fill="#000" font-weight="bold">c</text>
<line x1="523.6" y1="175.8" x2="523.6" y2="321.2" stroke="#000" stroke-width="1.8"/>
<line x1="519.1" y1="320.3" x2="523.6" y2="320.3" stroke="#000" stroke-width="1.8"/>
<text x="504.9" y="325.2" font-size="13.6" text-anchor="start" fill="#000">0</text>
<line x1="519.1" y1="302.4" x2="523.6" y2="302.4" stroke="#000" stroke-width="1.8"/>
<text x="504.9" y="307.2" font-size="13.6" text-anchor="start" fill="#000">1</text>
<line x1="519.1" y1="284.4" x2="523.6" y2="284.4" stroke="#000" stroke-width="1.8"/>
<text x="504.9" y="289.3" font-size="13.6" text-anchor="start" fill="#000">2</text>
<line x1="519.1" y1="266.5" x2="523.6" y2="266.5" stroke="#000" stroke-width="1.8"/>
<text x="504.9" y="271.4" font-size="13.6" text-anchor="start" fill="#000">3</text>
<line x1="519.1" y1="248.5" x2="523.6" y2="248.5" stroke="#000" stroke-width="1.8"/>
<text x="504.9" y="253.4" font-size="13.6" text-anchor="start" fill="#000">4</text>
<line x1="519.1" y1="230.6" x2="523.6" y2="230.6" stroke="#000" stroke-width="1.8"/>
<text x="504.9" y="235.5" font-size="13.6" text-anchor="start" fill="#000">5</text>
<line x1="519.1" y1="212.6" x2="523.6" y2="212.6" stroke="#000" stroke-width="1.8"/>
<text x="504.9" y="217.5" font-size="13.6" text-anchor="start" fill="#000">6</text>
<line x1="519.1" y1="194.7" x2="523.6" y2="194.7" stroke="#000" stroke-width="1.8"/>
<text x="504.9" y="199.6" font-size="13.6" text-anchor="start" fill="#000">7</text>
<line x1="519.1" y1="176.7" x2="523.6" y2="176.7" stroke="#000" stroke-width="1.8"/>
<text x="504.9" y="181.6" font-size="13.6" text-anchor="start" fill="#000">8</text>
<line x1="523.6" y1="320.3" x2="668.0" y2="320.3" stroke="#000" stroke-width="1.8"/>
<rect x="530.0" y="213.4" width="23.2" height="106.9" fill="#e8952b" stroke="#000" stroke-width="1.8"/>
<rect x="565.6" y="231.4" width="23.3" height="89.0" fill="#f4f4a4" stroke="#000" stroke-width="1.8"/>
<rect x="602.1" y="303.2" width="22.7" height="17.1" fill="#f4f4a4" stroke="#000" stroke-width="1.8"/>
<rect x="579.2" y="161.2" width="23.4" height="9.6" fill="#e8952b" stroke="#000" stroke-width="1.6"/>
<rect x="579.2" y="177.8" width="23.4" height="9.6" fill="#f4f4a4" stroke="#000" stroke-width="1.6"/>
<text x="605.6" y="168.6" font-size="12.2" text-anchor="start" fill="#000">100% stable</text>
<text x="605.6" y="185.4" font-size="12.2" text-anchor="start" fill="#000">&lt;100% stable</text>
<text font-size="14.0" text-anchor="end" transform="translate(555.0,331.5) rotate(-40)">100</text>
<text font-size="14.0" text-anchor="end" transform="translate(594.0,332.0) rotate(-40)">75-95</text>
<text font-size="14.0" text-anchor="end" transform="translate(632.5,332.0) rotate(-40)">50-70</text>
<text font-size="14.0" text-anchor="end" transform="translate(669.5,331.5) rotate(-40)">0-45</text>
<text x="535.6" y="363.6" font-size="13.99" text-anchor="start" fill="#000">% hierarchy stability</text>
<text font-size="13.93" fill="#000" transform="translate(480.50,325.40) rotate(-90)">Number of social groups</text>
<text x="2.1" y="401.2" font-size="21" text-anchor="start" fill="#000" font-weight="bold">d</text>
<rect x="74.2" y="386.3" width="14.6" height="7.8" fill="#0a0a0a" stroke="none" stroke-width="1.5"/>
<text x="91.2" y="395.0" font-size="13.15" text-anchor="start" fill="#000">+/+</text>
<rect x="115.3" y="386.3" width="14.4" height="7.8" fill="#871f1d" stroke="none" stroke-width="1.5"/>
<text x="135.6" y="395.0" font-size="13.0" text-anchor="start" fill="#000">+/-</text>
<rect x="160.6" y="386.3" width="14.2" height="7.8" fill="#e13424" stroke="none" stroke-width="1.5"/>
<text x="178.3" y="395.0" font-size="13.0" text-anchor="start" fill="#000">-/-</text>
<line x1="67.0" y1="408.6" x2="67.0" y2="554.2" stroke="#000" stroke-width="1.8"/>
<line x1="62.5" y1="553.3" x2="67.0" y2="553.3" stroke="#000" stroke-width="1.8"/>
<text x="48.6" y="558.4" font-size="13.9" text-anchor="start" fill="#000">0</text>
<line x1="62.5" y1="529.3" x2="67.0" y2="529.3" stroke="#000" stroke-width="1.8"/>
<text x="48.6" y="534.4" font-size="13.9" text-anchor="start" fill="#000">2</text>
<line x1="62.5" y1="505.4" x2="67.0" y2="505.4" stroke="#000" stroke-width="1.8"/>
<text x="48.6" y="510.5" font-size="13.9" text-anchor="start" fill="#000">4</text>
<line x1="62.5" y1="481.4" x2="67.0" y2="481.4" stroke="#000" stroke-width="1.8"/>
<text x="48.6" y="486.5" font-size="13.9" text-anchor="start" fill="#000">6</text>
<line x1="62.5" y1="457.4" x2="67.0" y2="457.4" stroke="#000" stroke-width="1.8"/>
<text x="48.6" y="462.5" font-size="13.9" text-anchor="start" fill="#000">8</text>
<line x1="62.5" y1="433.5" x2="67.0" y2="433.5" stroke="#000" stroke-width="1.8"/>
<text x="40.8" y="438.6" font-size="13.9" text-anchor="start" fill="#000">10</text>
<line x1="62.5" y1="409.5" x2="67.0" y2="409.5" stroke="#000" stroke-width="1.8"/>
<text x="40.8" y="414.6" font-size="13.9" text-anchor="start" fill="#000">12</text>
<rect x="73.3" y="516.1" width="24.0" height="36.1" fill="#0a0a0a" stroke="#0a0a0a" stroke-width="1.7"/>
<rect x="73.3" y="504.0" width="24.0" height="12.0" fill="#871f1d" stroke="#0a0a0a" stroke-width="1.7"/>
<rect x="73.3" y="492.0" width="24.0" height="12.0" fill="#871f1d" stroke="#0a0a0a" stroke-width="1.7"/>
<rect x="73.3" y="480.0" width="24.0" height="12.0" fill="#871f1d" stroke="#0a0a0a" stroke-width="1.7"/>
<rect x="73.3" y="467.9" width="24.0" height="12.0" fill="#871f1d" stroke="#0a0a0a" stroke-width="1.7"/>
<rect x="73.3" y="455.9" width="24.0" height="12.0" fill="#871f1d" stroke="#0a0a0a" stroke-width="1.7"/>
<rect x="73.3" y="443.8" width="24.0" height="12.0" fill="#871f1d" stroke="#0a0a0a" stroke-width="1.7"/>
<rect x="73.3" y="431.8" width="24.0" height="12.0" fill="#871f1d" stroke="#0a0a0a" stroke-width="1.7"/>
<rect x="73.3" y="419.8" width="24.0" height="12.0" fill="#871f1d" stroke="#0a0a0a" stroke-width="1.7"/>
<rect x="73.3" y="410.6" width="24.0" height="9.2" fill="#871f1d" stroke="#0a0a0a" stroke-width="1.7"/>
<rect x="73.3" y="410.6" width="24.0" height="141.8" fill="none" stroke="#0a0a0a" stroke-width="2.0"/>
<rect x="109.5" y="540.2" width="24.0" height="12.0" fill="#871f1d" stroke="#0a0a0a" stroke-width="1.7"/>
<rect x="109.5" y="528.1" width="24.0" height="12.0" fill="#871f1d" stroke="#0a0a0a" stroke-width="1.7"/>
<rect x="109.5" y="516.1" width="24.0" height="12.0" fill="#871f1d" stroke="#0a0a0a" stroke-width="1.7"/>
<rect x="109.5" y="419.8" width="24.0" height="96.3" fill="#0a0a0a" stroke="#0a0a0a" stroke-width="1.7"/>
<rect x="109.5" y="410.6" width="24.0" height="9.2" fill="#871f1d" stroke="#0a0a0a" stroke-width="1.7"/>
<rect x="109.5" y="410.6" width="24.0" height="141.8" fill="none" stroke="#0a0a0a" stroke-width="2.0"/>
<rect x="145.7" y="540.2" width="24.0" height="12.0" fill="#871f1d" stroke="#0a0a0a" stroke-width="1.7"/>
<rect x="145.7" y="528.1" width="24.0" height="12.0" fill="#871f1d" stroke="#0a0a0a" stroke-width="1.7"/>
<rect x="145.7" y="516.1" width="24.0" height="12.0" fill="#871f1d" stroke="#0a0a0a" stroke-width="1.7"/>
<rect x="145.7" y="504.0" width="24.0" height="12.0" fill="#871f1d" stroke="#0a0a0a" stroke-width="1.7"/>
<rect x="145.7" y="492.0" width="24.0" height="12.0" fill="#871f1d" stroke="#0a0a0a" stroke-width="1.7"/>
<rect x="145.7" y="480.0" width="24.0" height="12.0" fill="#871f1d" stroke="#0a0a0a" stroke-width="1.7"/>
<rect x="145.7" y="467.9" width="24.0" height="12.0" fill="#871f1d" stroke="#0a0a0a" stroke-width="1.7"/>
<rect x="145.7" y="455.9" width="24.0" height="12.0" fill="#871f1d" stroke="#0a0a0a" stroke-width="1.7"/>
<rect x="145.7" y="443.8" width="24.0" height="12.0" fill="#871f1d" stroke="#0a0a0a" stroke-width="1.7"/>
<rect x="145.7" y="431.8" width="24.0" height="12.0" fill="#871f1d" stroke="#0a0a0a" stroke-width="1.7"/>
<rect x="145.7" y="419.8" width="24.0" height="12.0" fill="#871f1d" stroke="#0a0a0a" stroke-width="1.7"/>
<rect x="145.7" y="410.6" width="24.0" height="9.2" fill="#0a0a0a" stroke="#0a0a0a" stroke-width="1.7"/>
<rect x="145.7" y="410.6" width="24.0" height="141.8" fill="none" stroke="#0a0a0a" stroke-width="2.0"/>
<rect x="183.1" y="540.2" width="24.0" height="12.0" fill="#e13424" stroke="#0a0a0a" stroke-width="1.7"/>
<rect x="183.1" y="528.1" width="24.0" height="12.0" fill="#e13424" stroke="#0a0a0a" stroke-width="1.7"/>
<rect x="183.1" y="516.1" width="24.0" height="12.0" fill="#e13424" stroke="#0a0a0a" stroke-width="1.7"/>
<rect x="183.1" y="504.0" width="24.0" height="12.0" fill="#e13424" stroke="#0a0a0a" stroke-width="1.7"/>
<rect x="183.1" y="492.0" width="24.0" height="12.0" fill="#e13424" stroke="#0a0a0a" stroke-width="1.7"/>
<rect x="183.1" y="480.0" width="24.0" height="12.0" fill="#e13424" stroke="#0a0a0a" stroke-width="1.7"/>
<rect x="183.1" y="467.9" width="24.0" height="12.0" fill="#e13424" stroke="#0a0a0a" stroke-width="1.7"/>
<rect x="183.1" y="455.9" width="24.0" height="12.0" fill="#e13424" stroke="#0a0a0a" stroke-width="1.7"/>
<rect x="183.1" y="443.8" width="24.0" height="12.0" fill="#e13424" stroke="#0a0a0a" stroke-width="1.7"/>
<rect x="183.1" y="431.8" width="24.0" height="12.0" fill="#e13424" stroke="#0a0a0a" stroke-width="1.7"/>
<rect x="183.1" y="419.8" width="24.0" height="12.0" fill="#e13424" stroke="#0a0a0a" stroke-width="1.7"/>
<rect x="183.1" y="410.6" width="24.0" height="9.2" fill="#e13424" stroke="#0a0a0a" stroke-width="1.7"/>
<rect x="183.1" y="410.6" width="24.0" height="141.8" fill="none" stroke="#0a0a0a" stroke-width="2.0"/>
<line x1="67.0" y1="553.3" x2="211.0" y2="553.3" stroke="#000" stroke-width="1.8"/>
<line x1="85.3" y1="553.3" x2="85.3" y2="557.3" stroke="#000" stroke-width="1.6"/>
<text x="85.3" y="573.9" font-size="13.6" text-anchor="middle" fill="#000">1</text>
<line x1="121.5" y1="553.3" x2="121.5" y2="557.3" stroke="#000" stroke-width="1.6"/>
<text x="121.5" y="573.9" font-size="13.6" text-anchor="middle" fill="#000">2</text>
<line x1="157.7" y1="553.3" x2="157.7" y2="557.3" stroke="#000" stroke-width="1.6"/>
<text x="157.7" y="573.9" font-size="13.6" text-anchor="middle" fill="#000">3</text>
<line x1="195.1" y1="553.3" x2="195.1" y2="557.3" stroke="#000" stroke-width="1.6"/>
<text x="195.1" y="573.9" font-size="13.6" text-anchor="middle" fill="#000">4</text>
<line x1="211.0" y1="552.4" x2="211.0" y2="557.3" stroke="#000" stroke-width="1.6"/>
<text x="95.6" y="594.2" font-size="13.82" text-anchor="start" fill="#000">Tube test rank</text>
<text font-size="13.98" fill="#000" transform="translate(24.46,556.70) rotate(-90)">Number of social groups</text>
<text x="232.1" y="396.6" font-size="21" text-anchor="start" fill="#000" font-weight="bold">e</text>
<line x1="297.6" y1="407.3" x2="297.6" y2="551.9" stroke="#000" stroke-width="1.8"/>
<line x1="293.1" y1="551.0" x2="297.6" y2="551.0" stroke="#000" stroke-width="1.8"/>
<text x="278.3" y="556.1" font-size="13.9" text-anchor="start" fill="#000">0</text>
<line x1="293.1" y1="503.4" x2="297.6" y2="503.4" stroke="#000" stroke-width="1.8"/>
<text x="262.8" y="508.5" font-size="13.9" text-anchor="start" fill="#000">100</text>
<line x1="293.1" y1="455.8" x2="297.6" y2="455.8" stroke="#000" stroke-width="1.8"/>
<text x="262.8" y="460.9" font-size="13.9" text-anchor="start" fill="#000">200</text>
<line x1="293.1" y1="408.2" x2="297.6" y2="408.2" stroke="#000" stroke-width="1.8"/>
<text x="262.8" y="413.3" font-size="13.9" text-anchor="start" fill="#000">300</text>
<line x1="297.6" y1="551.0" x2="443.3" y2="551.0" stroke="#000" stroke-width="1.8"/>
<line x1="315.2" y1="551.0" x2="315.2" y2="555.0" stroke="#000" stroke-width="1.6"/>
<text x="315.2" y="571.8" font-size="13.6" text-anchor="middle" fill="#000">1</text>
<line x1="351.9" y1="551.0" x2="351.9" y2="555.0" stroke="#000" stroke-width="1.6"/>
<text x="351.9" y="571.8" font-size="13.6" text-anchor="middle" fill="#000">2</text>
<line x1="388.1" y1="551.0" x2="388.1" y2="555.0" stroke="#000" stroke-width="1.6"/>
<text x="388.1" y="571.8" font-size="13.6" text-anchor="middle" fill="#000">3</text>
<line x1="424.8" y1="551.0" x2="424.8" y2="555.0" stroke="#000" stroke-width="1.6"/>
<text x="424.8" y="571.8" font-size="13.6" text-anchor="middle" fill="#000">4</text>
<line x1="443.3" y1="550.1" x2="443.3" y2="555.0" stroke="#000" stroke-width="1.6"/>
<text x="327.4" y="589.7" font-size="13.9" text-anchor="start" fill="#000">Tube test rank</text>
<text font-size="13.81" fill="#000" transform="translate(253.27,546.40) rotate(-90)">Corticosterone (ng/mL)</text>
<polyline points="315.2,413.4 351.9,466.3 388.1,479.1 424.8,477.7" fill="none" stroke="#ababab" stroke-width="1.8" stroke-linejoin="round"/>
<polyline points="315.2,472.0 351.9,487.2 388.1,505.8 424.8,493.9" fill="none" stroke="#ababab" stroke-width="1.8" stroke-linejoin="round"/>
<polyline points="315.2,495.3 351.9,503.4 388.1,431.0 424.8,470.1" fill="none" stroke="#ababab" stroke-width="1.8" stroke-linejoin="round"/>
<polyline points="315.2,498.6 351.9,509.1 388.1,523.9 424.8,504.8" fill="none" stroke="#ababab" stroke-width="1.8" stroke-linejoin="round"/>
<polyline points="315.2,501.5 351.9,512.9 388.1,529.1 424.8,529.1" fill="none" stroke="#ababab" stroke-width="1.8" stroke-linejoin="round"/>
<polyline points="315.2,510.5 351.9,517.7 388.1,533.4 424.8,532.0" fill="none" stroke="#ababab" stroke-width="1.8" stroke-linejoin="round"/>
<polyline points="315.2,516.7 351.9,524.8 388.1,538.1 424.8,535.3" fill="none" stroke="#ababab" stroke-width="1.8" stroke-linejoin="round"/>
<polyline points="315.2,521.5 351.9,529.1 388.1,542.4 424.8,538.1" fill="none" stroke="#ababab" stroke-width="1.8" stroke-linejoin="round"/>
<polyline points="315.2,528.2 351.9,533.9 388.1,523.9 424.8,540.5" fill="none" stroke="#ababab" stroke-width="1.8" stroke-linejoin="round"/>
<polyline points="315.2,524.3 351.9,537.2 388.1,529.1 424.8,527.2" fill="none" stroke="#ababab" stroke-width="1.8" stroke-linejoin="round"/>
<polyline points="315.2,541.0 351.9,521.5 388.1,538.1 424.8,533.9" fill="none" stroke="#ababab" stroke-width="1.8" stroke-linejoin="round"/>
<polyline points="315.2,505.8 351.9,523.4 388.1,542.4 424.8,536.7" fill="none" stroke="#ababab" stroke-width="1.8" stroke-linejoin="round"/>
<rect x="309.4" y="407.7" width="11.5" height="11.5" fill="none" stroke="#000" stroke-width="1.8"/>
<circle cx="351.9" cy="466.3" r="5.8" fill="none" stroke="#cf5555" stroke-width="1.8"/>
<polygon points="388.1,472.9 394.4,479.1 388.1,485.4 381.9,479.1" fill="none" stroke="#cf5555" stroke-width="1.8" stroke-linejoin="miter"/>
<polygon points="424.8,472.4 430.8,483.0 418.8,483.0" fill="none" stroke="#e13424" stroke-width="1.9" stroke-linejoin="miter"/>
<rect x="309.4" y="466.2" width="11.5" height="11.5" fill="none" stroke="#cf5555" stroke-width="1.8"/>
<circle cx="351.9" cy="487.2" r="5.8" fill="none" stroke="#000" stroke-width="1.8"/>
<polygon points="388.1,499.5 394.4,505.8 388.1,512.0 381.9,505.8" fill="none" stroke="#cf5555" stroke-width="1.8" stroke-linejoin="miter"/>
<polygon points="424.8,488.6 430.8,499.2 418.8,499.2" fill="none" stroke="#e13424" stroke-width="1.9" stroke-linejoin="miter"/>
<rect x="309.4" y="489.6" width="11.5" height="11.5" fill="none" stroke="#cf5555" stroke-width="1.8"/>
<circle cx="351.9" cy="503.4" r="5.8" fill="none" stroke="#000" stroke-width="1.8"/>
<polygon points="388.1,424.8 394.4,431.0 388.1,437.3 381.9,431.0" fill="none" stroke="#000" stroke-width="1.8" stroke-linejoin="miter"/>
<polygon points="424.8,464.8 430.8,475.4 418.8,475.4" fill="none" stroke="#e13424" stroke-width="1.9" stroke-linejoin="miter"/>
<rect x="309.4" y="492.9" width="11.5" height="11.5" fill="none" stroke="#cf5555" stroke-width="1.8"/>
<circle cx="351.9" cy="509.1" r="5.8" fill="none" stroke="#cf5555" stroke-width="1.8"/>
<polygon points="388.1,517.6 394.4,523.9 388.1,530.1 381.9,523.9" fill="none" stroke="#cf5555" stroke-width="1.8" stroke-linejoin="miter"/>
<polygon points="424.8,499.5 430.8,510.1 418.8,510.1" fill="none" stroke="#e13424" stroke-width="1.9" stroke-linejoin="miter"/>
<rect x="309.4" y="495.7" width="11.5" height="11.5" fill="none" stroke="#cf5555" stroke-width="1.8"/>
<circle cx="351.9" cy="512.9" r="5.8" fill="none" stroke="#000" stroke-width="1.8"/>
<polygon points="388.1,522.9 394.4,529.1 388.1,535.4 381.9,529.1" fill="none" stroke="#cf5555" stroke-width="1.8" stroke-linejoin="miter"/>
<polygon points="424.8,523.8 430.8,534.4 418.8,534.4" fill="none" stroke="#e13424" stroke-width="1.9" stroke-linejoin="miter"/>
<rect x="309.4" y="504.8" width="11.5" height="11.5" fill="none" stroke="#cf5555" stroke-width="1.8"/>
<circle cx="351.9" cy="517.7" r="5.8" fill="none" stroke="#000" stroke-width="1.8"/>
<polygon points="388.1,527.1 394.4,533.4 388.1,539.6 381.9,533.4" fill="none" stroke="#cf5555" stroke-width="1.8" stroke-linejoin="miter"/>
<polygon points="424.8,526.7 430.8,537.2 418.8,537.2" fill="none" stroke="#e13424" stroke-width="1.9" stroke-linejoin="miter"/>
<rect x="309.4" y="511.0" width="11.5" height="11.5" fill="none" stroke="#cf5555" stroke-width="1.8"/>
<circle cx="351.9" cy="524.8" r="5.8" fill="none" stroke="#cf5555" stroke-width="1.8"/>
<polygon points="388.1,531.9 394.4,538.1 388.1,544.4 381.9,538.1" fill="none" stroke="#cf5555" stroke-width="1.8" stroke-linejoin="miter"/>
<polygon points="424.8,530.0 430.8,540.6 418.8,540.6" fill="none" stroke="#e13424" stroke-width="1.9" stroke-linejoin="miter"/>
<rect x="309.4" y="515.7" width="11.5" height="11.5" fill="none" stroke="#000" stroke-width="1.8"/>
<circle cx="351.9" cy="529.1" r="5.8" fill="none" stroke="#000" stroke-width="1.8"/>
<polygon points="388.1,536.2 394.4,542.4 388.1,548.7 381.9,542.4" fill="none" stroke="#cf5555" stroke-width="1.8" stroke-linejoin="miter"/>
<polygon points="424.8,532.9 430.8,543.4 418.8,543.4" fill="none" stroke="#e13424" stroke-width="1.9" stroke-linejoin="miter"/>
<rect x="309.4" y="522.4" width="11.5" height="11.5" fill="none" stroke="#000" stroke-width="1.8"/>
<circle cx="351.9" cy="533.9" r="5.8" fill="none" stroke="#000" stroke-width="1.8"/>
<polygon points="388.1,517.6 394.4,523.9 388.1,530.1 381.9,523.9" fill="none" stroke="#cf5555" stroke-width="1.8" stroke-linejoin="miter"/>
<polygon points="424.8,535.2 430.8,545.8 418.8,545.8" fill="none" stroke="#e13424" stroke-width="1.9" stroke-linejoin="miter"/>
<rect x="309.4" y="518.6" width="11.5" height="11.5" fill="none" stroke="#cf5555" stroke-width="1.8"/>
<circle cx="351.9" cy="537.2" r="5.8" fill="none" stroke="#000" stroke-width="1.8"/>
<polygon points="388.1,522.9 394.4,529.1 388.1,535.4 381.9,529.1" fill="none" stroke="#cf5555" stroke-width="1.8" stroke-linejoin="miter"/>
<polygon points="424.8,521.9 430.8,532.5 418.8,532.5" fill="none" stroke="#e13424" stroke-width="1.9" stroke-linejoin="miter"/>
<rect x="309.4" y="535.3" width="11.5" height="11.5" fill="none" stroke="#cf5555" stroke-width="1.8"/>
<circle cx="351.9" cy="521.5" r="5.8" fill="none" stroke="#cf5555" stroke-width="1.8"/>
<polygon points="388.1,531.9 394.4,538.1 388.1,544.4 381.9,538.1" fill="none" stroke="#cf5555" stroke-width="1.8" stroke-linejoin="miter"/>
<polygon points="424.8,528.6 430.8,539.1 418.8,539.1" fill="none" stroke="#e13424" stroke-width="1.9" stroke-linejoin="miter"/>
<rect x="309.4" y="500.0" width="11.5" height="11.5" fill="none" stroke="#cf5555" stroke-width="1.8"/>
<circle cx="351.9" cy="523.4" r="5.8" fill="none" stroke="#000" stroke-width="1.8"/>
<polygon points="388.1,536.2 394.4,542.4 388.1,548.7 381.9,542.4" fill="none" stroke="#cf5555" stroke-width="1.8" stroke-linejoin="miter"/>
<polygon points="424.8,531.4 430.8,542.0 418.8,542.0" fill="none" stroke="#e13424" stroke-width="1.9" stroke-linejoin="miter"/>
<polyline points="315.2,507.2 351.9,516.7 388.1,516.7 424.8,516.7" fill="none" stroke="#000" stroke-width="2.0" stroke-linejoin="round"/>
<rect x="308.9" y="501.0" width="12.5" height="12.5" fill="#000" stroke="#000" stroke-width="1.5"/>
<circle cx="351.9" cy="516.7" r="6.5" fill="#5f5a5a" stroke="#000" stroke-width="1.5"/>
<polygon points="388.1,509.7 395.1,516.7 388.1,523.7 381.1,516.7" fill="#858585" stroke="#000" stroke-width="1.5" stroke-linejoin="miter"/>
<polygon points="424.8,510.2 432.1,523.3 417.6,523.3" fill="#dcdcdc" stroke="#000" stroke-width="1.6" stroke-linejoin="miter"/>
<text x="460.0" y="395.8" font-size="21" text-anchor="start" fill="#000" font-weight="bold">f</text>
<line x1="527.3" y1="404.8" x2="527.3" y2="550.4" stroke="#000" stroke-width="1.8"/>
<line x1="522.8" y1="405.7" x2="527.3" y2="405.7" stroke="#000" stroke-width="1.8"/>
<text x="496.7" y="410.8" font-size="13.9" text-anchor="start" fill="#000">1.6</text>
<line x1="522.8" y1="429.7" x2="527.3" y2="429.7" stroke="#000" stroke-width="1.8"/>
<text x="496.7" y="434.8" font-size="13.9" text-anchor="start" fill="#000">1.4</text>
<line x1="522.8" y1="453.6" x2="527.3" y2="453.6" stroke="#000" stroke-width="1.8"/>
<text x="496.7" y="458.7" font-size="13.9" text-anchor="start" fill="#000">1.2</text>
<line x1="522.8" y1="477.6" x2="527.3" y2="477.6" stroke="#000" stroke-width="1.8"/>
<text x="508.3" y="482.7" font-size="13.9" text-anchor="start" fill="#000">1</text>
<line x1="522.8" y1="501.6" x2="527.3" y2="501.6" stroke="#000" stroke-width="1.8"/>
<text x="496.7" y="506.7" font-size="13.9" text-anchor="start" fill="#000">0.8</text>
<line x1="522.8" y1="525.5" x2="527.3" y2="525.5" stroke="#000" stroke-width="1.8"/>
<text x="496.7" y="530.6" font-size="13.9" text-anchor="start" fill="#000">0.6</text>
<line x1="522.8" y1="549.5" x2="527.3" y2="549.5" stroke="#000" stroke-width="1.8"/>
<text x="496.7" y="554.6" font-size="13.9" text-anchor="start" fill="#000">0.4</text>
<rect x="533.3" y="458.3" width="23.7" height="19.3" fill="#000" stroke="#000" stroke-width="1.6"/>
<line x1="545.1" y1="449.8" x2="545.1" y2="477.6" stroke="#000" stroke-width="1.8"/>
<line x1="540.1" y1="449.8" x2="550.1" y2="449.8" stroke="#000" stroke-width="1.8"/>
<line x1="540.1" y1="477.6" x2="550.1" y2="477.6" stroke="#000" stroke-width="1.8"/>
<line x1="545.1" y1="477.6" x2="545.1" y2="481.6" stroke="#000" stroke-width="1.6"/>
<rect x="569.1" y="477.6" width="23.0" height="2.4" fill="#5a5a5a" stroke="#000" stroke-width="1.6"/>
<line x1="580.6" y1="469.5" x2="580.6" y2="489.9" stroke="#000" stroke-width="1.8"/>
<line x1="575.6" y1="469.5" x2="585.6" y2="469.5" stroke="#000" stroke-width="1.8"/>
<line x1="575.6" y1="489.9" x2="585.6" y2="489.9" stroke="#000" stroke-width="1.8"/>
<line x1="580.6" y1="477.6" x2="580.6" y2="481.6" stroke="#000" stroke-width="1.6"/>
<rect x="605.2" y="477.6" width="23.0" height="12.6" fill="#8c8c8c" stroke="#000" stroke-width="1.6"/>
<line x1="616.7" y1="477.6" x2="616.7" y2="501.6" stroke="#000" stroke-width="1.8"/>
<line x1="611.7" y1="477.6" x2="621.7" y2="477.6" stroke="#000" stroke-width="1.8"/>
<line x1="611.7" y1="501.6" x2="621.7" y2="501.6" stroke="#000" stroke-width="1.8"/>
<line x1="616.7" y1="477.6" x2="616.7" y2="481.6" stroke="#000" stroke-width="1.6"/>
<rect x="641.3" y="477.6" width="22.9" height="4.2" fill="#e6e6e6" stroke="#000" stroke-width="1.6"/>
<line x1="652.8" y1="470.9" x2="652.8" y2="493.4" stroke="#000" stroke-width="1.8"/>
<line x1="647.8" y1="470.9" x2="657.8" y2="470.9" stroke="#000" stroke-width="1.8"/>
<line x1="647.8" y1="493.4" x2="657.8" y2="493.4" stroke="#000" stroke-width="1.8"/>
<line x1="652.8" y1="477.6" x2="652.8" y2="481.6" stroke="#000" stroke-width="1.6"/>
<line x1="527.3" y1="477.6" x2="671.0" y2="477.6" stroke="#000" stroke-width="1.8"/>
<line x1="671.0" y1="476.7" x2="671.0" y2="481.6" stroke="#000" stroke-width="1.6"/>
<text x="544.9" y="571.1" font-size="13.6" text-anchor="middle" fill="#000">1</text>
<text x="581.0" y="571.1" font-size="13.6" text-anchor="middle" fill="#000">2</text>
<text x="616.7" y="571.1" font-size="13.6" text-anchor="middle" fill="#000">3</text>
<text x="652.9" y="571.1" font-size="13.6" text-anchor="middle" fill="#000">4</text>
<text x="553.6" y="591.0" font-size="13.81" text-anchor="start" fill="#000">Tube test rank</text>
<text font-size="14.00" fill="#000" transform="translate(480.00,548.70) rotate(-90)">Relative corticosterone</text>
<text x="3.7" y="624.5" font-size="21" text-anchor="start" fill="#000" font-weight="bold">g</text>
<line x1="69.8" y1="633.5" x2="69.8" y2="777.4" stroke="#000" stroke-width="1.8"/>
<line x1="65.3" y1="634.4" x2="69.8" y2="634.4" stroke="#000" stroke-width="1.8"/>
<text x="38.6" y="639.5" font-size="13.9" text-anchor="start" fill="#000">1.6</text>
<line x1="65.3" y1="658.1" x2="69.8" y2="658.1" stroke="#000" stroke-width="1.8"/>
<text x="38.6" y="663.2" font-size="13.9" text-anchor="start" fill="#000">1.4</text>
<line x1="65.3" y1="681.8" x2="69.8" y2="681.8" stroke="#000" stroke-width="1.8"/>
<text x="38.6" y="686.9" font-size="13.9" text-anchor="start" fill="#000">1.2</text>
<line x1="65.3" y1="705.5" x2="69.8" y2="705.5" stroke="#000" stroke-width="1.8"/>
<text x="50.2" y="710.6" font-size="13.9" text-anchor="start" fill="#000">1</text>
<line x1="65.3" y1="729.2" x2="69.8" y2="729.2" stroke="#000" stroke-width="1.8"/>
<text x="38.6" y="734.3" font-size="13.9" text-anchor="start" fill="#000">0.8</text>
<line x1="65.3" y1="752.9" x2="69.8" y2="752.9" stroke="#000" stroke-width="1.8"/>
<text x="38.6" y="758.0" font-size="13.9" text-anchor="start" fill="#000">0.6</text>
<line x1="65.3" y1="776.5" x2="69.8" y2="776.5" stroke="#000" stroke-width="1.8"/>
<text x="38.6" y="781.6" font-size="13.9" text-anchor="start" fill="#000">0.4</text>
<rect x="77.6" y="694.3" width="31.4" height="11.2" fill="#0a0a0a" stroke="#000" stroke-width="1.6"/>
<line x1="93.3" y1="683.2" x2="93.3" y2="705.5" stroke="#000" stroke-width="1.8"/>
<line x1="88.3" y1="683.2" x2="98.3" y2="683.2" stroke="#000" stroke-width="1.8"/>
<line x1="88.3" y1="705.5" x2="98.3" y2="705.5" stroke="#000" stroke-width="1.8"/>
<line x1="93.3" y1="705.5" x2="93.3" y2="709.5" stroke="#000" stroke-width="1.6"/>
<rect x="125.1" y="705.5" width="31.4" height="4.0" fill="#871f1d" stroke="#000" stroke-width="1.6"/>
<line x1="140.8" y1="702.1" x2="140.8" y2="715.2" stroke="#000" stroke-width="1.8"/>
<line x1="135.8" y1="702.1" x2="145.8" y2="702.1" stroke="#000" stroke-width="1.8"/>
<line x1="135.8" y1="715.2" x2="145.8" y2="715.2" stroke="#000" stroke-width="1.8"/>
<line x1="140.8" y1="705.5" x2="140.8" y2="709.5" stroke="#000" stroke-width="1.6"/>
<rect x="172.6" y="705.5" width="31.4" height="4.5" fill="#e13424" stroke="#000" stroke-width="1.6"/>
<line x1="188.3" y1="699.3" x2="188.3" y2="720.2" stroke="#000" stroke-width="1.8"/>
<line x1="183.3" y1="699.3" x2="193.3" y2="699.3" stroke="#000" stroke-width="1.8"/>
<line x1="183.3" y1="720.2" x2="193.3" y2="720.2" stroke="#000" stroke-width="1.8"/>
<line x1="188.3" y1="705.5" x2="188.3" y2="709.5" stroke="#000" stroke-width="1.6"/>
<line x1="69.8" y1="705.5" x2="212.5" y2="705.5" stroke="#000" stroke-width="1.8"/>
<line x1="212.5" y1="704.6" x2="212.5" y2="709.5" stroke="#000" stroke-width="1.6"/>
<text x="94.1" y="800.0" font-size="13.8" text-anchor="middle" fill="#000">+/+</text>
<text x="142.0" y="800.0" font-size="13.8" text-anchor="middle" fill="#000">+/−</text>
<text x="188.5" y="800.0" font-size="13.8" text-anchor="middle" fill="#000">−/−</text>
<text x="91.5" y="818.9" font-size="13.91" text-anchor="start" fill="#000">GRIA1 genotype</text>
<text font-size="13.95" fill="#000" transform="translate(24.49,776.90) rotate(-90)">Relative corticosterone</text>
<text x="232.1" y="625.0" font-size="21" text-anchor="start" fill="#000" font-weight="bold">h</text>
<line x1="297.1" y1="633.4" x2="297.1" y2="778.3" stroke="#000" stroke-width="1.8"/>
<line x1="292.6" y1="777.4" x2="297.1" y2="777.4" stroke="#000" stroke-width="1.8"/>
<text x="278.1" y="782.5" font-size="13.9" text-anchor="start" fill="#000">0</text>
<line x1="292.6" y1="741.6" x2="297.1" y2="741.6" stroke="#000" stroke-width="1.8"/>
<text x="270.3" y="746.7" font-size="13.9" text-anchor="start" fill="#000">25</text>
<line x1="292.6" y1="705.8" x2="297.1" y2="705.8" stroke="#000" stroke-width="1.8"/>
<text x="270.3" y="710.9" font-size="13.9" text-anchor="start" fill="#000">50</text>
<line x1="292.6" y1="670.1" x2="297.1" y2="670.1" stroke="#000" stroke-width="1.8"/>
<text x="270.3" y="675.2" font-size="13.9" text-anchor="start" fill="#000">75</text>
<line x1="292.6" y1="634.3" x2="297.1" y2="634.3" stroke="#000" stroke-width="1.8"/>
<text x="262.6" y="639.4" font-size="13.9" text-anchor="start" fill="#000">100</text>
<rect x="304.6" y="684.8" width="32.3" height="92.6" fill="#0a0a0a" stroke="#000" stroke-width="1.6"/>
<line x1="320.8" y1="660.5" x2="320.8" y2="707.4" stroke="#000" stroke-width="1.8"/>
<line x1="315.8" y1="660.5" x2="325.8" y2="660.5" stroke="#000" stroke-width="1.8"/>
<line x1="315.8" y1="707.4" x2="325.8" y2="707.4" stroke="#000" stroke-width="1.8"/>
<rect x="352.7" y="688.5" width="31.3" height="88.9" fill="#871f1d" stroke="#000" stroke-width="1.6"/>
<line x1="368.4" y1="663.8" x2="368.4" y2="712.9" stroke="#000" stroke-width="1.8"/>
<line x1="363.4" y1="663.8" x2="373.4" y2="663.8" stroke="#000" stroke-width="1.8"/>
<line x1="363.4" y1="712.9" x2="373.4" y2="712.9" stroke="#000" stroke-width="1.8"/>
<rect x="400.2" y="685.8" width="31.5" height="91.6" fill="#e13424" stroke="#000" stroke-width="1.6"/>
<line x1="415.9" y1="662.1" x2="415.9" y2="709.1" stroke="#000" stroke-width="1.8"/>
<line x1="410.9" y1="662.1" x2="420.9" y2="662.1" stroke="#000" stroke-width="1.8"/>
<line x1="410.9" y1="709.1" x2="420.9" y2="709.1" stroke="#000" stroke-width="1.8"/>
<line x1="297.1" y1="777.4" x2="440.0" y2="777.4" stroke="#000" stroke-width="1.8"/>
<line x1="320.8" y1="777.4" x2="320.8" y2="781.4" stroke="#000" stroke-width="1.6"/>
<line x1="367.9" y1="777.4" x2="367.9" y2="781.4" stroke="#000" stroke-width="1.6"/>
<line x1="415.4" y1="777.4" x2="415.4" y2="781.4" stroke="#000" stroke-width="1.6"/>
<line x1="440.0" y1="777.4" x2="440.0" y2="781.4" stroke="#000" stroke-width="1.6"/>
<text x="321.8" y="800.0" font-size="13.8" text-anchor="middle" fill="#000">+/+</text>
<text x="369.8" y="800.0" font-size="13.8" text-anchor="middle" fill="#000">+/−</text>
<text x="416.5" y="800.0" font-size="13.8" text-anchor="middle" fill="#000">−/−</text>
<text x="321.5" y="818.8" font-size="13.85" text-anchor="start" fill="#000">GRIA1 genotype</text>
<text font-size="14.60" fill="#000" transform="translate(252.17,762.70) rotate(-90)">% Lymphocytes</text>
<line x1="526.5" y1="632.4" x2="526.5" y2="778.7" stroke="#000" stroke-width="1.8"/>
<line x1="522.0" y1="777.8" x2="526.5" y2="777.8" stroke="#000" stroke-width="1.8"/>
<text x="507.3" y="782.9" font-size="13.9" text-anchor="start" fill="#000">0</text>
<line x1="522.0" y1="748.9" x2="526.5" y2="748.9" stroke="#000" stroke-width="1.8"/>
<text x="507.3" y="754.0" font-size="13.9" text-anchor="start" fill="#000">5</text>
<line x1="522.0" y1="720.0" x2="526.5" y2="720.0" stroke="#000" stroke-width="1.8"/>
<text x="499.5" y="725.1" font-size="13.9" text-anchor="start" fill="#000">10</text>
<line x1="522.0" y1="691.1" x2="526.5" y2="691.1" stroke="#000" stroke-width="1.8"/>
<text x="499.5" y="696.2" font-size="13.9" text-anchor="start" fill="#000">15</text>
<line x1="522.0" y1="662.2" x2="526.5" y2="662.2" stroke="#000" stroke-width="1.8"/>
<text x="499.5" y="667.3" font-size="13.9" text-anchor="start" fill="#000">20</text>
<line x1="522.0" y1="633.3" x2="526.5" y2="633.3" stroke="#000" stroke-width="1.8"/>
<text x="499.5" y="638.4" font-size="13.9" text-anchor="start" fill="#000">25</text>
<rect x="534.1" y="682.0" width="32.1" height="95.8" fill="#0a0a0a" stroke="#000" stroke-width="1.6"/>
<line x1="550.1" y1="663.6" x2="550.1" y2="698.6" stroke="#000" stroke-width="1.8"/>
<line x1="545.1" y1="663.6" x2="555.1" y2="663.6" stroke="#000" stroke-width="1.8"/>
<line x1="545.1" y1="698.6" x2="555.1" y2="698.6" stroke="#000" stroke-width="1.8"/>
<rect x="582.3" y="679.8" width="31.2" height="98.0" fill="#871f1d" stroke="#000" stroke-width="1.6"/>
<line x1="597.9" y1="664.2" x2="597.9" y2="695.0" stroke="#000" stroke-width="1.8"/>
<line x1="592.9" y1="664.2" x2="602.9" y2="664.2" stroke="#000" stroke-width="1.8"/>
<line x1="592.9" y1="695.0" x2="602.9" y2="695.0" stroke="#000" stroke-width="1.8"/>
<rect x="629.8" y="683.2" width="31.3" height="94.6" fill="#e13424" stroke="#000" stroke-width="1.6"/>
<line x1="645.5" y1="666.0" x2="645.5" y2="699.4" stroke="#000" stroke-width="1.8"/>
<line x1="640.5" y1="666.0" x2="650.5" y2="666.0" stroke="#000" stroke-width="1.8"/>
<line x1="640.5" y1="699.4" x2="650.5" y2="699.4" stroke="#000" stroke-width="1.8"/>
<line x1="526.5" y1="777.8" x2="669.5" y2="777.8" stroke="#000" stroke-width="1.8"/>
<line x1="550.1" y1="777.8" x2="550.1" y2="781.8" stroke="#000" stroke-width="1.6"/>
<line x1="597.9" y1="777.8" x2="597.9" y2="781.8" stroke="#000" stroke-width="1.6"/>
<line x1="645.5" y1="777.8" x2="645.5" y2="781.8" stroke="#000" stroke-width="1.6"/>
<line x1="669.5" y1="777.8" x2="669.5" y2="781.8" stroke="#000" stroke-width="1.6"/>
<text x="551.4" y="800.0" font-size="13.8" text-anchor="middle" fill="#000">+/+</text>
<text x="598.4" y="800.0" font-size="13.8" text-anchor="middle" fill="#000">+/−</text>
<text x="646.4" y="800.0" font-size="13.8" text-anchor="middle" fill="#000">−/−</text>
<text x="547.1" y="818.5" font-size="13.91" text-anchor="start" fill="#000">GRIA1 genotype</text>
<text font-size="14.42" fill="#000" transform="translate(481.13,783.10) rotate(-90)">% CD8+ of lymphocytes</text>
<text x="3.7" y="851.8" font-size="21" text-anchor="start" fill="#000" font-weight="bold">i</text>
<line x1="71.6" y1="858.3" x2="71.6" y2="1004.4" stroke="#000" stroke-width="1.8"/>
<line x1="67.1" y1="1003.5" x2="71.6" y2="1003.5" stroke="#000" stroke-width="1.8"/>
<text x="52.2" y="1008.6" font-size="13.9" text-anchor="start" fill="#000">0</text>
<line x1="67.1" y1="974.6" x2="71.6" y2="974.6" stroke="#000" stroke-width="1.8"/>
<text x="52.2" y="979.7" font-size="13.9" text-anchor="start" fill="#000">5</text>
<line x1="67.1" y1="945.8" x2="71.6" y2="945.8" stroke="#000" stroke-width="1.8"/>
<text x="44.4" y="950.9" font-size="13.9" text-anchor="start" fill="#000">10</text>
<line x1="67.1" y1="916.9" x2="71.6" y2="916.9" stroke="#000" stroke-width="1.8"/>
<text x="44.4" y="922.0" font-size="13.9" text-anchor="start" fill="#000">15</text>
<line x1="67.1" y1="888.1" x2="71.6" y2="888.1" stroke="#000" stroke-width="1.8"/>
<text x="44.4" y="893.2" font-size="13.9" text-anchor="start" fill="#000">20</text>
<line x1="67.1" y1="859.2" x2="71.6" y2="859.2" stroke="#000" stroke-width="1.8"/>
<text x="44.4" y="864.3" font-size="13.9" text-anchor="start" fill="#000">25</text>
<line x1="71.6" y1="1003.5" x2="214.9" y2="1003.5" stroke="#000" stroke-width="1.8"/>
<line x1="85.8" y1="1003.5" x2="85.8" y2="1007.5" stroke="#000" stroke-width="1.6"/>
<text x="80.2" y="1025.2" font-size="13.6" text-anchor="start" fill="#000">7</text>
<line x1="114.3" y1="1003.5" x2="114.3" y2="1007.5" stroke="#000" stroke-width="1.6"/>
<text x="104.7" y="1025.2" font-size="13.6" text-anchor="start" fill="#000">10</text>
<line x1="143.1" y1="1003.5" x2="143.1" y2="1007.5" stroke="#000" stroke-width="1.6"/>
<text x="133.2" y="1025.2" font-size="13.6" text-anchor="start" fill="#000">12</text>
<line x1="172.0" y1="1003.5" x2="172.0" y2="1007.5" stroke="#000" stroke-width="1.6"/>
<text x="161.7" y="1025.2" font-size="13.6" text-anchor="start" fill="#000">14</text>
<line x1="200.8" y1="1003.5" x2="200.8" y2="1007.5" stroke="#000" stroke-width="1.6"/>
<text x="190.9" y="1025.2" font-size="13.6" text-anchor="start" fill="#000">17</text>
<line x1="214.9" y1="1002.6" x2="214.9" y2="1007.5" stroke="#000" stroke-width="1.6"/>
<text x="73.9" y="1045.5" font-size="13.93" text-anchor="start" fill="#000">Days after vaccination</text>
<text font-size="14.06" fill="#000" transform="translate(28.53,1000.40) rotate(-90)">% gB+ of CD8+ T-cells</text>
<line x1="143.1" y1="862.1" x2="143.1" y2="899.0" stroke="#000" stroke-width="1.8"/>
<line x1="138.1" y1="862.1" x2="148.1" y2="862.1" stroke="#000" stroke-width="1.8"/>
<line x1="138.1" y1="899.0" x2="148.1" y2="899.0" stroke="#000" stroke-width="1.8"/>
<line x1="172.0" y1="871.9" x2="172.0" y2="898.4" stroke="#000" stroke-width="1.8"/>
<line x1="167.0" y1="871.9" x2="177.0" y2="871.9" stroke="#000" stroke-width="1.8"/>
<line x1="167.0" y1="898.4" x2="177.0" y2="898.4" stroke="#000" stroke-width="1.8"/>
<line x1="200.8" y1="912.3" x2="200.8" y2="921.0" stroke="#000" stroke-width="1.8"/>
<line x1="195.8" y1="912.3" x2="205.8" y2="912.3" stroke="#000" stroke-width="1.8"/>
<line x1="143.1" y1="900.2" x2="143.1" y2="922.1" stroke="#000" stroke-width="1.8"/>
<line x1="138.1" y1="900.2" x2="148.1" y2="900.2" stroke="#000" stroke-width="1.8"/>
<line x1="172.0" y1="937.7" x2="172.0" y2="949.8" stroke="#000" stroke-width="1.8"/>
<line x1="167.0" y1="949.8" x2="177.0" y2="949.8" stroke="#000" stroke-width="1.8"/>
<line x1="200.8" y1="940.6" x2="200.8" y2="955.0" stroke="#000" stroke-width="1.8"/>
<line x1="195.8" y1="955.0" x2="205.8" y2="955.0" stroke="#000" stroke-width="1.8"/>
<line x1="143.1" y1="905.4" x2="143.1" y2="918.4" stroke="#000" stroke-width="1.8"/>
<line x1="138.1" y1="905.4" x2="148.1" y2="905.4" stroke="#000" stroke-width="1.8"/>
<line x1="172.0" y1="909.4" x2="172.0" y2="918.9" stroke="#000" stroke-width="1.8"/>
<line x1="167.0" y1="909.4" x2="177.0" y2="909.4" stroke="#000" stroke-width="1.8"/>
<line x1="114.3" y1="939.4" x2="114.3" y2="955.9" stroke="#000" stroke-width="1.8"/>
<line x1="109.3" y1="939.4" x2="119.3" y2="939.4" stroke="#000" stroke-width="1.8"/>
<line x1="143.1" y1="937.7" x2="143.1" y2="948.7" stroke="#000" stroke-width="1.8"/>
<line x1="138.1" y1="948.7" x2="148.1" y2="948.7" stroke="#000" stroke-width="1.8"/>
<line x1="172.0" y1="912.3" x2="172.0" y2="927.9" stroke="#000" stroke-width="1.8"/>
<line x1="167.0" y1="912.3" x2="177.0" y2="912.3" stroke="#000" stroke-width="1.8"/>
<line x1="200.8" y1="929.6" x2="200.8" y2="934.2" stroke="#000" stroke-width="1.8"/>
<line x1="195.8" y1="929.6" x2="205.8" y2="929.6" stroke="#000" stroke-width="1.8"/>
<polyline points="85.8,996.0 114.3,969.4 143.1,880.6 172.0,885.5 200.8,921.0" fill="none" stroke="#000" stroke-width="2.2" stroke-linejoin="round"/>
<polyline points="85.8,996.6 114.3,969.4 143.1,922.1 172.0,937.7 200.8,940.6" fill="none" stroke="#000" stroke-width="2.2" stroke-linejoin="round"/>
<polyline points="85.8,996.6 114.3,968.3 143.1,918.4 172.0,918.9 200.8,941.7" fill="none" stroke="#000" stroke-width="2.2" stroke-linejoin="round"/>
<polyline points="85.8,1000.0 114.3,955.9 143.1,937.7 172.0,927.9 200.8,934.2" fill="none" stroke="#000" stroke-width="2.2" stroke-linejoin="round"/>
<circle cx="85.8" cy="996.0" r="5.9" fill="#5f5a5a" stroke="#000" stroke-width="1.5"/>
<circle cx="114.3" cy="969.4" r="5.9" fill="#5f5a5a" stroke="#000" stroke-width="1.5"/>
<circle cx="143.1" cy="880.6" r="5.9" fill="#5f5a5a" stroke="#000" stroke-width="1.5"/>
<circle cx="172.0" cy="885.5" r="5.9" fill="#5f5a5a" stroke="#000" stroke-width="1.5"/>
<circle cx="200.8" cy="921.0" r="5.9" fill="#5f5a5a" stroke="#000" stroke-width="1.5"/>
<rect x="80.3" y="991.1" width="10.9" height="10.9" fill="#000" stroke="#000" stroke-width="1.5"/>
<rect x="108.8" y="964.0" width="10.9" height="10.9" fill="#000" stroke="#000" stroke-width="1.5"/>
<rect x="137.7" y="916.7" width="10.9" height="10.9" fill="#000" stroke="#000" stroke-width="1.5"/>
<rect x="166.6" y="932.2" width="10.9" height="10.9" fill="#000" stroke="#000" stroke-width="1.5"/>
<rect x="195.4" y="935.1" width="10.9" height="10.9" fill="#000" stroke="#000" stroke-width="1.5"/>
<polygon points="85.8,992.2 90.2,996.6 85.8,1001.0 81.4,996.6" fill="#858585" stroke="#000" stroke-width="1.5" stroke-linejoin="miter"/>
<polygon points="114.3,963.9 118.7,968.3 114.3,972.7 109.9,968.3" fill="#858585" stroke="#000" stroke-width="1.5" stroke-linejoin="miter"/>
<polygon points="143.1,914.0 147.5,918.4 143.1,922.8 138.7,918.4" fill="#858585" stroke="#000" stroke-width="1.5" stroke-linejoin="miter"/>
<polygon points="172.0,914.5 176.4,918.9 172.0,923.3 167.6,918.9" fill="#858585" stroke="#000" stroke-width="1.5" stroke-linejoin="miter"/>
<polygon points="200.8,937.3 205.2,941.7 200.8,946.1 196.4,941.7" fill="#858585" stroke="#000" stroke-width="1.5" stroke-linejoin="miter"/>
<polygon points="85.8,995.6 90.6,1004.5 81.0,1004.5" fill="#dcdcdc" stroke="#000" stroke-width="1.5" stroke-linejoin="miter"/>
<polygon points="114.3,951.5 119.1,960.3 109.5,960.3" fill="#dcdcdc" stroke="#000" stroke-width="1.5" stroke-linejoin="miter"/>
<polygon points="143.1,933.3 147.9,942.1 138.3,942.1" fill="#dcdcdc" stroke="#000" stroke-width="1.5" stroke-linejoin="miter"/>
<polygon points="172.0,923.5 176.8,932.3 167.2,932.3" fill="#dcdcdc" stroke="#000" stroke-width="1.5" stroke-linejoin="miter"/>
<polygon points="200.8,929.8 205.6,938.7 196.0,938.7" fill="#dcdcdc" stroke="#000" stroke-width="1.5" stroke-linejoin="miter"/>
<text x="235.6" y="857.8" font-size="21" text-anchor="start" fill="#000" font-weight="bold">j</text>
<line x1="298.1" y1="851.9" x2="298.1" y2="1006.3" stroke="#000" stroke-width="1.8"/>
<line x1="293.6" y1="1005.4" x2="298.1" y2="1005.4" stroke="#000" stroke-width="1.8"/>
<text x="279.3" y="1010.5" font-size="13.9" text-anchor="start" fill="#000">0</text>
<line x1="293.6" y1="988.4" x2="298.1" y2="988.4" stroke="#000" stroke-width="1.8"/>
<text x="279.3" y="993.5" font-size="13.9" text-anchor="start" fill="#000">5</text>
<line x1="293.6" y1="971.5" x2="298.1" y2="971.5" stroke="#000" stroke-width="1.8"/>
<text x="271.5" y="976.6" font-size="13.9" text-anchor="start" fill="#000">10</text>
<line x1="293.6" y1="954.5" x2="298.1" y2="954.5" stroke="#000" stroke-width="1.8"/>
<text x="271.5" y="959.6" font-size="13.9" text-anchor="start" fill="#000">15</text>
<line x1="293.6" y1="937.6" x2="298.1" y2="937.6" stroke="#000" stroke-width="1.8"/>
<text x="271.5" y="942.7" font-size="13.9" text-anchor="start" fill="#000">20</text>
<line x1="293.6" y1="920.6" x2="298.1" y2="920.6" stroke="#000" stroke-width="1.8"/>
<text x="271.5" y="925.7" font-size="13.9" text-anchor="start" fill="#000">25</text>
<line x1="293.6" y1="903.7" x2="298.1" y2="903.7" stroke="#000" stroke-width="1.8"/>
<text x="271.5" y="908.8" font-size="13.9" text-anchor="start" fill="#000">30</text>
<line x1="293.6" y1="886.7" x2="298.1" y2="886.7" stroke="#000" stroke-width="1.8"/>
<text x="271.5" y="891.8" font-size="13.9" text-anchor="start" fill="#000">35</text>
<line x1="293.6" y1="869.8" x2="298.1" y2="869.8" stroke="#000" stroke-width="1.8"/>
<text x="271.5" y="874.9" font-size="13.9" text-anchor="start" fill="#000">40</text>
<line x1="293.6" y1="852.8" x2="298.1" y2="852.8" stroke="#000" stroke-width="1.8"/>
<text x="271.5" y="857.9" font-size="13.9" text-anchor="start" fill="#000">45</text>
<line x1="298.1" y1="1005.4" x2="441.6" y2="1005.4" stroke="#000" stroke-width="1.8"/>
<line x1="315.8" y1="1005.4" x2="315.8" y2="1009.4" stroke="#000" stroke-width="1.6"/>
<text x="312.3" y="1026.9" font-size="13.6" text-anchor="start" fill="#000">1</text>
<line x1="351.9" y1="1005.4" x2="351.9" y2="1009.4" stroke="#000" stroke-width="1.6"/>
<text x="348.4" y="1026.9" font-size="13.6" text-anchor="start" fill="#000">2</text>
<line x1="387.6" y1="1005.4" x2="387.6" y2="1009.4" stroke="#000" stroke-width="1.6"/>
<text x="384.1" y="1026.9" font-size="13.6" text-anchor="start" fill="#000">3</text>
<line x1="423.7" y1="1005.4" x2="423.7" y2="1009.4" stroke="#000" stroke-width="1.6"/>
<text x="420.3" y="1026.9" font-size="13.6" text-anchor="start" fill="#000">4</text>
<line x1="441.6" y1="1004.5" x2="441.6" y2="1009.4" stroke="#000" stroke-width="1.6"/>
<text x="323.0" y="1051.9" font-size="13.76" text-anchor="start" fill="#000">Tube test rank</text>
<text font-size="14.06" fill="#000" transform="translate(256.68,1000.20) rotate(-90)">% gB+ of CD8+ T-cells</text>
<polyline points="315.8,879.9 351.9,872.8 387.6,879.9 423.7,917.6" fill="none" stroke="#b0b0b0" stroke-width="1.8" stroke-linejoin="round"/>
<polyline points="315.8,893.2 351.9,923.0 387.6,911.5 423.7,951.8" fill="none" stroke="#b0b0b0" stroke-width="1.8" stroke-linejoin="round"/>
<polyline points="315.8,948.4 351.9,879.6 387.6,917.6 423.7,975.9" fill="none" stroke="#b0b0b0" stroke-width="1.8" stroke-linejoin="round"/>
<polyline points="315.8,968.1 351.9,903.0 387.6,983.7 423.7,920.6" fill="none" stroke="#b0b0b0" stroke-width="1.8" stroke-linejoin="round"/>
<polyline points="315.8,971.5 351.9,910.8 387.6,940.0 423.7,945.0" fill="none" stroke="#b0b0b0" stroke-width="1.8" stroke-linejoin="round"/>
<polyline points="315.8,977.3 351.9,914.2 387.6,995.9 423.7,979.3" fill="none" stroke="#b0b0b0" stroke-width="1.8" stroke-linejoin="round"/>
<polyline points="315.8,986.1 351.9,960.6 387.6,972.8 423.7,990.5" fill="none" stroke="#b0b0b0" stroke-width="1.8" stroke-linejoin="round"/>
<polyline points="315.8,989.1 351.9,965.7 387.6,977.3 423.7,996.9" fill="none" stroke="#b0b0b0" stroke-width="1.8" stroke-linejoin="round"/>
<polyline points="315.8,956.2 351.9,979.3 387.6,988.4 423.7,973.2" fill="none" stroke="#b0b0b0" stroke-width="1.8" stroke-linejoin="round"/>
<polyline points="315.8,985.1 351.9,982.7 387.6,984.4 423.7,983.4" fill="none" stroke="#b0b0b0" stroke-width="1.8" stroke-linejoin="round"/>
<polyline points="315.8,963.0 351.9,986.1 387.6,981.7 423.7,995.2" fill="none" stroke="#b0b0b0" stroke-width="1.8" stroke-linejoin="round"/>
<polyline points="315.8,952.8 351.9,920.6 387.6,994.5 423.7,978.3" fill="none" stroke="#b0b0b0" stroke-width="1.8" stroke-linejoin="round"/>
<rect x="310.2" y="874.3" width="11.2" height="11.2" fill="none" stroke="#cf5555" stroke-width="1.9"/>
<circle cx="351.9" cy="872.8" r="5.3" fill="none" stroke="#8f8f8f" stroke-width="1.9"/>
<polygon points="387.6,874.2 393.4,879.9 387.6,885.7 381.9,879.9" fill="none" stroke="#cf5555" stroke-width="1.9" stroke-linejoin="miter"/>
<polygon points="423.7,912.3 429.7,922.9 417.7,922.9" fill="none" stroke="#e13424" stroke-width="1.9" stroke-linejoin="miter"/>
<rect x="310.2" y="887.6" width="11.2" height="11.2" fill="none" stroke="#cf5555" stroke-width="1.9"/>
<circle cx="351.9" cy="923.0" r="5.3" fill="none" stroke="#cf5555" stroke-width="1.9"/>
<polygon points="387.6,905.7 393.4,911.5 387.6,917.2 381.9,911.5" fill="none" stroke="#cf5555" stroke-width="1.9" stroke-linejoin="miter"/>
<polygon points="423.7,946.5 429.7,957.1 417.7,957.1" fill="none" stroke="#e13424" stroke-width="1.9" stroke-linejoin="miter"/>
<rect x="310.2" y="942.8" width="11.2" height="11.2" fill="none" stroke="#8f8f8f" stroke-width="1.9"/>
<circle cx="351.9" cy="879.6" r="5.3" fill="none" stroke="#8f8f8f" stroke-width="1.9"/>
<polygon points="387.6,911.8 393.4,917.6 387.6,923.3 381.9,917.6" fill="none" stroke="#cf5555" stroke-width="1.9" stroke-linejoin="miter"/>
<polygon points="423.7,970.6 429.7,981.2 417.7,981.2" fill="none" stroke="#e13424" stroke-width="1.9" stroke-linejoin="miter"/>
<rect x="310.2" y="962.5" width="11.2" height="11.2" fill="none" stroke="#cf5555" stroke-width="1.9"/>
<circle cx="351.9" cy="903.0" r="5.3" fill="none" stroke="#8f8f8f" stroke-width="1.9"/>
<polygon points="387.6,977.9 393.4,983.7 387.6,989.4 381.9,983.7" fill="none" stroke="#cf5555" stroke-width="1.9" stroke-linejoin="miter"/>
<polygon points="423.7,915.3 429.7,925.9 417.7,925.9" fill="none" stroke="#e13424" stroke-width="1.9" stroke-linejoin="miter"/>
<rect x="310.2" y="965.9" width="11.2" height="11.2" fill="none" stroke="#cf5555" stroke-width="1.9"/>
<circle cx="351.9" cy="910.8" r="5.3" fill="none" stroke="#cf5555" stroke-width="1.9"/>
<polygon points="387.6,934.2 393.4,940.0 387.6,945.7 381.9,940.0" fill="none" stroke="#cf5555" stroke-width="1.9" stroke-linejoin="miter"/>
<polygon points="423.7,939.8 429.7,950.3 417.7,950.3" fill="none" stroke="#e13424" stroke-width="1.9" stroke-linejoin="miter"/>
<rect x="310.2" y="971.7" width="11.2" height="11.2" fill="none" stroke="#cf5555" stroke-width="1.9"/>
<circle cx="351.9" cy="914.2" r="5.3" fill="none" stroke="#8f8f8f" stroke-width="1.9"/>
<polygon points="387.6,990.2 393.4,995.9 387.6,1001.7 381.9,995.9" fill="none" stroke="#cf5555" stroke-width="1.9" stroke-linejoin="miter"/>
<polygon points="423.7,974.0 429.7,984.6 417.7,984.6" fill="none" stroke="#e13424" stroke-width="1.9" stroke-linejoin="miter"/>
<rect x="310.2" y="980.5" width="11.2" height="11.2" fill="none" stroke="#8f8f8f" stroke-width="1.9"/>
<circle cx="351.9" cy="960.6" r="5.3" fill="none" stroke="#cf5555" stroke-width="1.9"/>
<polygon points="387.6,967.1 393.4,972.8 387.6,978.6 381.9,972.8" fill="none" stroke="#cf5555" stroke-width="1.9" stroke-linejoin="miter"/>
<polygon points="423.7,985.2 429.7,995.8 417.7,995.8" fill="none" stroke="#e13424" stroke-width="1.9" stroke-linejoin="miter"/>
<rect x="310.2" y="983.5" width="11.2" height="11.2" fill="none" stroke="#8f8f8f" stroke-width="1.9"/>
<circle cx="351.9" cy="965.7" r="5.3" fill="none" stroke="#cf5555" stroke-width="1.9"/>
<polygon points="387.6,971.5 393.4,977.3 387.6,983.0 381.9,977.3" fill="none" stroke="#cf5555" stroke-width="1.9" stroke-linejoin="miter"/>
<polygon points="423.7,991.6 429.7,1002.2 417.7,1002.2" fill="none" stroke="#e13424" stroke-width="1.9" stroke-linejoin="miter"/>
<rect x="310.2" y="950.6" width="11.2" height="11.2" fill="none" stroke="#cf5555" stroke-width="1.9"/>
<circle cx="351.9" cy="979.3" r="5.3" fill="none" stroke="#8f8f8f" stroke-width="1.9"/>
<polygon points="387.6,982.7 393.4,988.4 387.6,994.2 381.9,988.4" fill="none" stroke="#cf5555" stroke-width="1.9" stroke-linejoin="miter"/>
<polygon points="423.7,967.9 429.7,978.5 417.7,978.5" fill="none" stroke="#e13424" stroke-width="1.9" stroke-linejoin="miter"/>
<rect x="310.2" y="979.5" width="11.2" height="11.2" fill="none" stroke="#cf5555" stroke-width="1.9"/>
<circle cx="351.9" cy="982.7" r="5.3" fill="none" stroke="#8f8f8f" stroke-width="1.9"/>
<polygon points="387.6,978.6 393.4,984.4 387.6,990.1 381.9,984.4" fill="none" stroke="#8f8f8f" stroke-width="1.9" stroke-linejoin="miter"/>
<polygon points="423.7,978.1 429.7,988.6 417.7,988.6" fill="none" stroke="#e13424" stroke-width="1.9" stroke-linejoin="miter"/>
<rect x="310.2" y="957.4" width="11.2" height="11.2" fill="none" stroke="#cf5555" stroke-width="1.9"/>
<circle cx="351.9" cy="986.1" r="5.3" fill="none" stroke="#8f8f8f" stroke-width="1.9"/>
<polygon points="387.6,975.9 393.4,981.7 387.6,987.4 381.9,981.7" fill="none" stroke="#cf5555" stroke-width="1.9" stroke-linejoin="miter"/>
<polygon points="423.7,989.9 429.7,1000.5 417.7,1000.5" fill="none" stroke="#e13424" stroke-width="1.9" stroke-linejoin="miter"/>
<rect x="310.2" y="947.2" width="11.2" height="11.2" fill="none" stroke="#cf5555" stroke-width="1.9"/>
<circle cx="351.9" cy="920.6" r="5.3" fill="none" stroke="#8f8f8f" stroke-width="1.9"/>
<polygon points="387.6,988.8 393.4,994.5 387.6,1000.3 381.9,994.5" fill="none" stroke="#cf5555" stroke-width="1.9" stroke-linejoin="miter"/>
<polygon points="423.7,973.0 429.7,983.6 417.7,983.6" fill="none" stroke="#e13424" stroke-width="1.9" stroke-linejoin="miter"/>
<line x1="351.9" y1="925.7" x2="351.9" y2="942.7" stroke="#000" stroke-width="1.8"/>
<line x1="347.9" y1="925.7" x2="355.9" y2="925.7" stroke="#000" stroke-width="1.8"/>
<line x1="347.9" y1="942.7" x2="355.9" y2="942.7" stroke="#000" stroke-width="1.8"/>
<line x1="387.6" y1="949.4" x2="387.6" y2="962.0" stroke="#000" stroke-width="1.8"/>
<line x1="383.6" y1="949.4" x2="391.6" y2="949.4" stroke="#000" stroke-width="1.8"/>
<line x1="383.6" y1="962.0" x2="391.6" y2="962.0" stroke="#000" stroke-width="1.8"/>
<line x1="423.7" y1="960.6" x2="423.7" y2="973.2" stroke="#000" stroke-width="1.8"/>
<line x1="419.7" y1="960.6" x2="427.7" y2="960.6" stroke="#000" stroke-width="1.8"/>
<line x1="419.7" y1="973.2" x2="427.7" y2="973.2" stroke="#000" stroke-width="1.8"/>
<polyline points="315.8,956.9 351.9,932.8 387.6,956.2 423.7,967.1" fill="none" stroke="#000" stroke-width="2.0" stroke-linejoin="round"/>
<rect x="308.9" y="950.0" width="13.9" height="13.9" fill="#000" stroke="#000" stroke-width="1.5"/>
<circle cx="351.9" cy="932.8" r="6.7" fill="#5f5a5a" stroke="#000" stroke-width="1.5"/>
<polygon points="387.6,949.2 394.6,956.2 387.6,963.2 380.6,956.2" fill="#858585" stroke="#000" stroke-width="1.5" stroke-linejoin="miter"/>
<polygon points="423.7,960.6 430.9,973.6 416.4,973.6" fill="#dcdcdc" stroke="#000" stroke-width="1.6" stroke-linejoin="miter"/>
<text x="460.0" y="851.7" font-size="21" text-anchor="start" fill="#000" font-weight="bold">k</text>
<line x1="527.4" y1="863.6" x2="527.4" y2="1008.1" stroke="#000" stroke-width="1.8"/>
<line x1="522.9" y1="864.5" x2="527.4" y2="864.5" stroke="#000" stroke-width="1.8"/>
<text x="497.0" y="869.6" font-size="13.9" text-anchor="start" fill="#000">1.6</text>
<line x1="522.9" y1="888.3" x2="527.4" y2="888.3" stroke="#000" stroke-width="1.8"/>
<text x="497.0" y="893.4" font-size="13.9" text-anchor="start" fill="#000">1.4</text>
<line x1="522.9" y1="912.1" x2="527.4" y2="912.1" stroke="#000" stroke-width="1.8"/>
<text x="497.0" y="917.2" font-size="13.9" text-anchor="start" fill="#000">1.2</text>
<line x1="522.9" y1="935.9" x2="527.4" y2="935.9" stroke="#000" stroke-width="1.8"/>
<text x="508.6" y="941.0" font-size="13.9" text-anchor="start" fill="#000">1</text>
<line x1="522.9" y1="959.7" x2="527.4" y2="959.7" stroke="#000" stroke-width="1.8"/>
<text x="497.0" y="964.8" font-size="13.9" text-anchor="start" fill="#000">0.8</text>
<line x1="522.9" y1="983.5" x2="527.4" y2="983.5" stroke="#000" stroke-width="1.8"/>
<text x="497.0" y="988.6" font-size="13.9" text-anchor="start" fill="#000">0.6</text>
<line x1="522.9" y1="1007.2" x2="527.4" y2="1007.2" stroke="#000" stroke-width="1.8"/>
<text x="497.0" y="1012.4" font-size="13.9" text-anchor="start" fill="#000">0.4</text>
<rect x="533.6" y="935.9" width="23.0" height="12.1" fill="#0a0a0a" stroke="#000" stroke-width="1.6"/>
<line x1="545.1" y1="934.7" x2="545.1" y2="960.9" stroke="#000" stroke-width="1.8"/>
<line x1="540.1" y1="934.7" x2="550.1" y2="934.7" stroke="#000" stroke-width="1.8"/>
<line x1="540.1" y1="960.9" x2="550.1" y2="960.9" stroke="#000" stroke-width="1.8"/>
<rect x="569.2" y="891.9" width="22.0" height="44.0" fill="#5a5352" stroke="#000" stroke-width="1.6"/>
<line x1="580.2" y1="872.9" x2="580.2" y2="912.1" stroke="#000" stroke-width="1.8"/>
<line x1="575.2" y1="872.9" x2="585.2" y2="872.9" stroke="#000" stroke-width="1.8"/>
<line x1="575.2" y1="912.1" x2="585.2" y2="912.1" stroke="#000" stroke-width="1.8"/>
<rect x="604.0" y="935.9" width="22.7" height="10.7" fill="#8c8888" stroke="#000" stroke-width="1.6"/>
<line x1="615.4" y1="931.7" x2="615.4" y2="960.9" stroke="#000" stroke-width="1.8"/>
<line x1="610.4" y1="931.7" x2="620.4" y2="931.7" stroke="#000" stroke-width="1.8"/>
<line x1="610.4" y1="960.9" x2="620.4" y2="960.9" stroke="#000" stroke-width="1.8"/>
<rect x="639.5" y="935.9" width="22.2" height="21.4" fill="#e6e6e6" stroke="#000" stroke-width="1.6"/>
<line x1="650.6" y1="937.1" x2="650.6" y2="978.7" stroke="#000" stroke-width="1.8"/>
<line x1="645.6" y1="937.1" x2="655.6" y2="937.1" stroke="#000" stroke-width="1.8"/>
<line x1="645.6" y1="978.7" x2="655.6" y2="978.7" stroke="#000" stroke-width="1.8"/>
<line x1="527.4" y1="935.9" x2="668.6" y2="935.9" stroke="#000" stroke-width="1.8"/>
<line x1="668.6" y1="935.0" x2="668.6" y2="939.9" stroke="#000" stroke-width="1.6"/>
<line x1="580.2" y1="935.9" x2="580.2" y2="939.9" stroke="#000" stroke-width="1.6"/>
<path d="M579.6,861.5 L579.6,855.2 L651.5,855.2 L651.5,861.5" fill="none" stroke="#000" stroke-width="1.8"/>
<text x="607.4" y="853.5" font-size="19" text-anchor="start" fill="#000">*</text>
<text x="539.1" y="1027.1" font-size="13.6" text-anchor="start" fill="#000">1</text>
<text x="576.9" y="1027.1" font-size="13.6" text-anchor="start" fill="#000">2</text>
<text x="614.1" y="1027.1" font-size="13.6" text-anchor="start" fill="#000">3</text>
<text x="651.6" y="1027.1" font-size="13.6" text-anchor="start" fill="#000">4</text>
<text x="555.2" y="1046.8" font-size="13.76" text-anchor="start" fill="#000">Tube test rank</text>
<text font-size="14.10" fill="#000" transform="translate(480.50,993.50) rotate(-90)">Relative gB+ T-cells</text>
<text x="3.7" y="1078.5" font-size="21" text-anchor="start" fill="#000" font-weight="bold">l</text>
<line x1="72.0" y1="1089.7" x2="72.0" y2="1232.9" stroke="#000" stroke-width="1.8"/>
<line x1="67.5" y1="1232.0" x2="72.0" y2="1232.0" stroke="#000" stroke-width="1.8"/>
<text x="52.9" y="1237.1" font-size="13.9" text-anchor="start" fill="#000">0</text>
<line x1="67.5" y1="1203.7" x2="72.0" y2="1203.7" stroke="#000" stroke-width="1.8"/>
<text x="52.9" y="1208.8" font-size="13.9" text-anchor="start" fill="#000">5</text>
<line x1="67.5" y1="1175.4" x2="72.0" y2="1175.4" stroke="#000" stroke-width="1.8"/>
<text x="45.1" y="1180.5" font-size="13.9" text-anchor="start" fill="#000">10</text>
<line x1="67.5" y1="1147.2" x2="72.0" y2="1147.2" stroke="#000" stroke-width="1.8"/>
<text x="45.1" y="1152.3" font-size="13.9" text-anchor="start" fill="#000">15</text>
<line x1="67.5" y1="1118.9" x2="72.0" y2="1118.9" stroke="#000" stroke-width="1.8"/>
<text x="45.1" y="1124.0" font-size="13.9" text-anchor="start" fill="#000">20</text>
<line x1="67.5" y1="1090.6" x2="72.0" y2="1090.6" stroke="#000" stroke-width="1.8"/>
<text x="45.1" y="1095.7" font-size="13.9" text-anchor="start" fill="#000">25</text>
<line x1="72.0" y1="1232.0" x2="213.9" y2="1232.0" stroke="#000" stroke-width="1.8"/>
<line x1="85.8" y1="1232.0" x2="85.8" y2="1236.0" stroke="#000" stroke-width="1.6"/>
<text x="80.6" y="1251.5" font-size="13.6" text-anchor="start" fill="#000">7</text>
<line x1="114.3" y1="1232.0" x2="114.3" y2="1236.0" stroke="#000" stroke-width="1.6"/>
<text x="105.7" y="1251.5" font-size="13.6" text-anchor="start" fill="#000">10</text>
<line x1="143.1" y1="1232.0" x2="143.1" y2="1236.0" stroke="#000" stroke-width="1.6"/>
<text x="134.3" y="1251.5" font-size="13.6" text-anchor="start" fill="#000">12</text>
<line x1="171.4" y1="1232.0" x2="171.4" y2="1236.0" stroke="#000" stroke-width="1.6"/>
<text x="163.4" y="1251.5" font-size="13.6" text-anchor="start" fill="#000">14</text>
<line x1="200.1" y1="1232.0" x2="200.1" y2="1236.0" stroke="#000" stroke-width="1.6"/>
<text x="192.1" y="1251.5" font-size="13.6" text-anchor="start" fill="#000">17</text>
<line x1="213.9" y1="1231.1" x2="213.9" y2="1236.0" stroke="#000" stroke-width="1.6"/>
<text x="79.0" y="1272.6" font-size="13.96" text-anchor="start" fill="#000">Days after vaccination</text>
<text font-size="13.94" fill="#000" transform="translate(27.85,1229.20) rotate(-90)">% gB+ of CD8+ T-cells</text>
<line x1="143.1" y1="1109.3" x2="143.1" y2="1148.9" stroke="#000" stroke-width="1.8"/>
<line x1="138.1" y1="1109.3" x2="148.1" y2="1109.3" stroke="#000" stroke-width="1.8"/>
<line x1="138.1" y1="1148.9" x2="148.1" y2="1148.9" stroke="#000" stroke-width="1.8"/>
<line x1="171.4" y1="1116.6" x2="171.4" y2="1147.2" stroke="#000" stroke-width="1.8"/>
<line x1="166.4" y1="1116.6" x2="176.4" y2="1116.6" stroke="#000" stroke-width="1.8"/>
<line x1="166.4" y1="1147.2" x2="176.4" y2="1147.2" stroke="#000" stroke-width="1.8"/>
<line x1="200.1" y1="1148.9" x2="200.1" y2="1174.9" stroke="#000" stroke-width="1.8"/>
<line x1="195.1" y1="1148.9" x2="205.1" y2="1148.9" stroke="#000" stroke-width="1.8"/>
<line x1="195.1" y1="1174.9" x2="205.1" y2="1174.9" stroke="#000" stroke-width="1.8"/>
<line x1="114.3" y1="1189.6" x2="114.3" y2="1203.7" stroke="#000" stroke-width="1.8"/>
<line x1="109.3" y1="1189.6" x2="119.3" y2="1189.6" stroke="#000" stroke-width="1.8"/>
<line x1="109.3" y1="1203.7" x2="119.3" y2="1203.7" stroke="#000" stroke-width="1.8"/>
<line x1="143.1" y1="1133.0" x2="143.1" y2="1156.2" stroke="#000" stroke-width="1.8"/>
<line x1="138.1" y1="1133.0" x2="148.1" y2="1133.0" stroke="#000" stroke-width="1.8"/>
<line x1="138.1" y1="1156.2" x2="148.1" y2="1156.2" stroke="#000" stroke-width="1.8"/>
<line x1="171.4" y1="1142.1" x2="171.4" y2="1159.0" stroke="#000" stroke-width="1.8"/>
<line x1="166.4" y1="1142.1" x2="176.4" y2="1142.1" stroke="#000" stroke-width="1.8"/>
<line x1="166.4" y1="1159.0" x2="176.4" y2="1159.0" stroke="#000" stroke-width="1.8"/>
<line x1="114.3" y1="1170.3" x2="114.3" y2="1199.2" stroke="#000" stroke-width="1.8"/>
<line x1="109.3" y1="1170.3" x2="119.3" y2="1170.3" stroke="#000" stroke-width="1.8"/>
<line x1="109.3" y1="1199.2" x2="119.3" y2="1199.2" stroke="#000" stroke-width="1.8"/>
<line x1="143.1" y1="1152.8" x2="143.1" y2="1178.3" stroke="#000" stroke-width="1.8"/>
<line x1="138.1" y1="1152.8" x2="148.1" y2="1152.8" stroke="#000" stroke-width="1.8"/>
<line x1="138.1" y1="1178.3" x2="148.1" y2="1178.3" stroke="#000" stroke-width="1.8"/>
<line x1="171.4" y1="1143.8" x2="171.4" y2="1170.9" stroke="#000" stroke-width="1.8"/>
<line x1="166.4" y1="1143.8" x2="176.4" y2="1143.8" stroke="#000" stroke-width="1.8"/>
<line x1="166.4" y1="1170.9" x2="176.4" y2="1170.9" stroke="#000" stroke-width="1.8"/>
<line x1="200.1" y1="1152.8" x2="200.1" y2="1172.0" stroke="#000" stroke-width="1.8"/>
<line x1="195.1" y1="1152.8" x2="205.1" y2="1152.8" stroke="#000" stroke-width="1.8"/>
<line x1="195.1" y1="1172.0" x2="205.1" y2="1172.0" stroke="#000" stroke-width="1.8"/>
<polyline points="85.8,1225.8 114.3,1198.6 143.1,1129.1 171.4,1131.9 200.1,1163.0" fill="none" stroke="#000" stroke-width="1.8" stroke-linejoin="round"/>
<polyline points="85.8,1226.3 114.3,1197.5 143.1,1141.5 171.4,1150.6 200.1,1166.4" fill="none" stroke="#871f1d" stroke-width="1.8" stroke-linejoin="round"/>
<polyline points="85.8,1228.6 114.3,1185.1 143.1,1165.8 171.4,1157.3 200.1,1162.4" fill="none" stroke="#e13424" stroke-width="1.8" stroke-linejoin="round"/>
<circle cx="85.8" cy="1225.8" r="6.0" fill="#0a0a0a" stroke="#000" stroke-width="1.5"/>
<circle cx="114.3" cy="1198.6" r="6.0" fill="#0a0a0a" stroke="#000" stroke-width="1.5"/>
<circle cx="143.1" cy="1129.1" r="6.0" fill="#0a0a0a" stroke="#000" stroke-width="1.5"/>
<circle cx="171.4" cy="1131.9" r="6.0" fill="#0a0a0a" stroke="#000" stroke-width="1.5"/>
<circle cx="200.1" cy="1163.0" r="6.0" fill="#0a0a0a" stroke="#000" stroke-width="1.5"/>
<circle cx="85.8" cy="1226.3" r="6.0" fill="#871f1d" stroke="#000" stroke-width="1.5"/>
<circle cx="114.3" cy="1197.5" r="6.0" fill="#871f1d" stroke="#000" stroke-width="1.5"/>
<circle cx="143.1" cy="1141.5" r="6.0" fill="#871f1d" stroke="#000" stroke-width="1.5"/>
<circle cx="171.4" cy="1150.6" r="6.0" fill="#871f1d" stroke="#000" stroke-width="1.5"/>
<circle cx="200.1" cy="1166.4" r="6.0" fill="#871f1d" stroke="#000" stroke-width="1.5"/>
<circle cx="85.8" cy="1228.6" r="6.0" fill="#e13424" stroke="#000" stroke-width="1.5"/>
<circle cx="114.3" cy="1185.1" r="6.0" fill="#e13424" stroke="#000" stroke-width="1.5"/>
<circle cx="143.1" cy="1165.8" r="6.0" fill="#e13424" stroke="#000" stroke-width="1.5"/>
<circle cx="171.4" cy="1157.3" r="6.0" fill="#e13424" stroke="#000" stroke-width="1.5"/>
<circle cx="200.1" cy="1162.4" r="6.0" fill="#e13424" stroke="#000" stroke-width="1.5"/>
<text x="223.7" y="1076.9" font-size="21" text-anchor="start" fill="#000" font-weight="bold">m</text>
<line x1="300.9" y1="1090.3" x2="300.9" y2="1233.7" stroke="#000" stroke-width="1.8"/>
<line x1="296.4" y1="1091.2" x2="300.9" y2="1091.2" stroke="#000" stroke-width="1.8"/>
<text x="270.6" y="1096.3" font-size="13.9" text-anchor="start" fill="#000">1.6</text>
<line x1="296.4" y1="1114.8" x2="300.9" y2="1114.8" stroke="#000" stroke-width="1.8"/>
<text x="270.6" y="1119.9" font-size="13.9" text-anchor="start" fill="#000">1.4</text>
<line x1="296.4" y1="1138.4" x2="300.9" y2="1138.4" stroke="#000" stroke-width="1.8"/>
<text x="270.6" y="1143.5" font-size="13.9" text-anchor="start" fill="#000">1.2</text>
<line x1="296.4" y1="1162.0" x2="300.9" y2="1162.0" stroke="#000" stroke-width="1.8"/>
<text x="282.2" y="1167.1" font-size="13.9" text-anchor="start" fill="#000">1</text>
<line x1="296.4" y1="1185.6" x2="300.9" y2="1185.6" stroke="#000" stroke-width="1.8"/>
<text x="270.6" y="1190.7" font-size="13.9" text-anchor="start" fill="#000">0.8</text>
<line x1="296.4" y1="1209.2" x2="300.9" y2="1209.2" stroke="#000" stroke-width="1.8"/>
<text x="270.6" y="1214.3" font-size="13.9" text-anchor="start" fill="#000">0.6</text>
<line x1="296.4" y1="1232.8" x2="300.9" y2="1232.8" stroke="#000" stroke-width="1.8"/>
<text x="270.6" y="1237.8" font-size="13.9" text-anchor="start" fill="#000">0.4</text>
<rect x="309.0" y="1141.4" width="31.6" height="20.6" fill="#0a0a0a" stroke="#000" stroke-width="1.6"/>
<line x1="324.8" y1="1121.6" x2="324.8" y2="1162.0" stroke="#000" stroke-width="1.8"/>
<line x1="319.8" y1="1121.6" x2="329.8" y2="1121.6" stroke="#000" stroke-width="1.8"/>
<line x1="319.8" y1="1162.0" x2="329.8" y2="1162.0" stroke="#000" stroke-width="1.8"/>
<rect x="357.4" y="1160.6" width="31.1" height="1.4" fill="#871f1d" stroke="#000" stroke-width="1.6"/>
<line x1="373.0" y1="1150.2" x2="373.0" y2="1171.8" stroke="#000" stroke-width="1.8"/>
<line x1="368.0" y1="1150.2" x2="378.0" y2="1150.2" stroke="#000" stroke-width="1.8"/>
<line x1="368.0" y1="1171.8" x2="378.0" y2="1171.8" stroke="#000" stroke-width="1.8"/>
<rect x="405.3" y="1162.0" width="31.1" height="21.2" fill="#e13424" stroke="#000" stroke-width="1.6"/>
<line x1="420.9" y1="1162.0" x2="420.9" y2="1203.9" stroke="#000" stroke-width="1.8"/>
<line x1="415.9" y1="1162.0" x2="425.9" y2="1162.0" stroke="#000" stroke-width="1.8"/>
<line x1="415.9" y1="1203.9" x2="425.9" y2="1203.9" stroke="#000" stroke-width="1.8"/>
<line x1="300.9" y1="1162.0" x2="444.6" y2="1162.0" stroke="#000" stroke-width="1.8"/>
<line x1="348.4" y1="1161.1" x2="348.4" y2="1166.0" stroke="#000" stroke-width="1.6"/>
<line x1="397.0" y1="1161.1" x2="397.0" y2="1166.0" stroke="#000" stroke-width="1.6"/>
<line x1="444.6" y1="1161.1" x2="444.6" y2="1166.0" stroke="#000" stroke-width="1.6"/>
<text x="313.0" y="1244.0" font-size="13.8" text-anchor="start" fill="#000">+/+</text>
<text x="360.4" y="1244.0" font-size="13.8" text-anchor="start" fill="#000">+/−</text>
<text x="413.7" y="1244.0" font-size="13.8" text-anchor="start" fill="#000">−/−</text>
<text x="323.0" y="1272.1" font-size="14.0" text-anchor="start" fill="#000">GRIA1 genotype</text>
<text font-size="14.12" fill="#000" transform="translate(262.60,1219.20) rotate(-90)">Relative gB+ T-cells</text>
<text x="464.6" y="1072.8" font-size="21" text-anchor="start" fill="#000" font-weight="bold">n</text>
<line x1="527.8" y1="1085.7" x2="527.8" y2="1232.6" stroke="#000" stroke-width="1.8"/>
<line x1="523.3" y1="1231.7" x2="527.8" y2="1231.7" stroke="#000" stroke-width="1.8"/>
<text x="509.0" y="1236.8" font-size="13.9" text-anchor="start" fill="#000">0</text>
<line x1="523.3" y1="1202.7" x2="527.8" y2="1202.7" stroke="#000" stroke-width="1.8"/>
<text x="497.4" y="1207.8" font-size="13.9" text-anchor="start" fill="#000">0.5</text>
<line x1="523.3" y1="1173.7" x2="527.8" y2="1173.7" stroke="#000" stroke-width="1.8"/>
<text x="509.0" y="1178.8" font-size="13.9" text-anchor="start" fill="#000">1</text>
<line x1="523.3" y1="1144.6" x2="527.8" y2="1144.6" stroke="#000" stroke-width="1.8"/>
<text x="497.4" y="1149.7" font-size="13.9" text-anchor="start" fill="#000">1.5</text>
<line x1="523.3" y1="1115.6" x2="527.8" y2="1115.6" stroke="#000" stroke-width="1.8"/>
<text x="509.0" y="1120.7" font-size="13.9" text-anchor="start" fill="#000">2</text>
<line x1="523.3" y1="1086.6" x2="527.8" y2="1086.6" stroke="#000" stroke-width="1.8"/>
<text x="497.4" y="1091.7" font-size="13.9" text-anchor="start" fill="#000">2.5</text>
<line x1="526.9" y1="1231.7" x2="669.5" y2="1231.7" stroke="#000" stroke-width="1.8"/>
<line x1="527.6" y1="1231.7" x2="527.6" y2="1235.7" stroke="#000" stroke-width="1.6"/>
<text x="523.8" y="1252.9" font-size="13.6" text-anchor="start" fill="#000">0</text>
<line x1="556.0" y1="1231.7" x2="556.0" y2="1235.7" stroke="#000" stroke-width="1.6"/>
<text x="547.0" y="1252.9" font-size="13.6" text-anchor="start" fill="#000">0.5</text>
<line x1="584.4" y1="1231.7" x2="584.4" y2="1235.7" stroke="#000" stroke-width="1.6"/>
<text x="580.3" y="1252.9" font-size="13.6" text-anchor="start" fill="#000">1</text>
<line x1="612.7" y1="1231.7" x2="612.7" y2="1235.7" stroke="#000" stroke-width="1.6"/>
<text x="604.0" y="1252.9" font-size="13.6" text-anchor="start" fill="#000">1.5</text>
<line x1="641.1" y1="1231.7" x2="641.1" y2="1235.7" stroke="#000" stroke-width="1.6"/>
<text x="637.9" y="1252.9" font-size="13.6" text-anchor="start" fill="#000">2</text>
<line x1="669.5" y1="1231.7" x2="669.5" y2="1235.7" stroke="#000" stroke-width="1.6"/>
<text x="660.0" y="1252.9" font-size="13.6" text-anchor="start" fill="#000">2.5</text>
<text x="531.3" y="1273.1" font-size="14.13" text-anchor="start" fill="#000">Relative corticosterone</text>
<text font-size="14.25" fill="#000" transform="translate(480.03,1212.70) rotate(-90)">Relative gB+ T-cells</text>
<text y="1089.3" font-size="13.6"><tspan x="619.8" font-style="italic">r</tspan><tspan x="632.3">=</tspan><tspan x="643.3">0.05</tspan></text>
<text y="1105.7" font-size="13.6"><tspan x="620.0" font-style="italic">P</tspan><tspan x="632.8">=</tspan><tspan x="643.8">0.72</tspan></text>
<line x1="537.0" y1="1165.8" x2="656.4" y2="1155.5" stroke="#000" stroke-width="1.6"/>
<rect x="583.4" y="1141.6" width="10.3" height="10.3" fill="#871f1d" stroke="#000" stroke-width="1.5"/>
<rect x="594.4" y="1144.8" width="10.3" height="10.3" fill="#871f1d" stroke="#000" stroke-width="1.5"/>
<rect x="608.6" y="1150.3" width="10.3" height="10.3" fill="#871f1d" stroke="#000" stroke-width="1.5"/>
<rect x="596.5" y="1163.5" width="10.3" height="10.3" fill="#871f1d" stroke="#000" stroke-width="1.5"/>
<rect x="565.9" y="1169.0" width="10.3" height="10.3" fill="#871f1d" stroke="#000" stroke-width="1.5"/>
<rect x="589.9" y="1188.8" width="10.3" height="10.3" fill="#871f1d" stroke="#000" stroke-width="1.5"/>
<rect x="591.1" y="1199.6" width="10.3" height="10.3" fill="#871f1d" stroke="#000" stroke-width="1.5"/>
<rect x="563.6" y="1195.2" width="10.3" height="10.3" fill="#871f1d" stroke="#000" stroke-width="1.5"/>
<rect x="610.8" y="1204.0" width="10.3" height="10.3" fill="#871f1d" stroke="#000" stroke-width="1.5"/>
<rect x="578.9" y="1166.8" width="10.3" height="10.3" fill="#871f1d" stroke="#000" stroke-width="1.5"/>
<circle cx="579.7" cy="1103.0" r="6.0" fill="#000" stroke="#000" stroke-width="1.0"/>
<circle cx="587.4" cy="1108.5" r="6.0" fill="#000" stroke="#000" stroke-width="1.0"/>
<circle cx="598.4" cy="1100.1" r="6.0" fill="#000" stroke="#000" stroke-width="1.0"/>
<circle cx="570.5" cy="1137.4" r="6.0" fill="#000" stroke="#000" stroke-width="1.0"/>
<circle cx="600.5" cy="1149.0" r="6.0" fill="#000" stroke="#000" stroke-width="1.0"/>
<circle cx="606.0" cy="1155.5" r="6.0" fill="#000" stroke="#000" stroke-width="1.0"/>
<circle cx="588.5" cy="1162.1" r="6.0" fill="#000" stroke="#000" stroke-width="1.0"/>
<circle cx="553.5" cy="1166.5" r="6.0" fill="#000" stroke="#000" stroke-width="1.0"/>
<circle cx="555.7" cy="1178.5" r="6.0" fill="#000" stroke="#000" stroke-width="1.0"/>
<circle cx="595.0" cy="1175.2" r="6.0" fill="#000" stroke="#000" stroke-width="1.0"/>
<circle cx="580.8" cy="1199.3" r="6.0" fill="#000" stroke="#000" stroke-width="1.0"/>
<circle cx="585.0" cy="1180.0" r="6.0" fill="#000" stroke="#000" stroke-width="1.0"/>
<polygon points="570.5,1145.9 575.9,1151.2 570.5,1156.5 565.1,1151.2" fill="#d05a5a" stroke="#000" stroke-width="1.5" stroke-linejoin="miter"/>
<polygon points="586.3,1145.9 591.6,1151.2 586.3,1156.5 580.9,1151.2" fill="#d05a5a" stroke="#000" stroke-width="1.5" stroke-linejoin="miter"/>
<polygon points="621.3,1153.1 626.6,1158.4 621.3,1163.8 615.9,1158.4" fill="#d05a5a" stroke="#000" stroke-width="1.5" stroke-linejoin="miter"/>
<polygon points="556.7,1156.4 562.1,1161.7 556.7,1167.0 551.4,1161.7" fill="#d05a5a" stroke="#000" stroke-width="1.5" stroke-linejoin="miter"/>
<polygon points="567.7,1164.0 573.1,1169.3 567.7,1174.6 562.4,1169.3" fill="#d05a5a" stroke="#000" stroke-width="1.5" stroke-linejoin="miter"/>
<polygon points="590.7,1160.1 596.1,1165.4 590.7,1170.8 585.4,1165.4" fill="#d05a5a" stroke="#000" stroke-width="1.5" stroke-linejoin="miter"/>
<polygon points="572.1,1177.6 577.5,1182.9 572.1,1188.2 566.8,1182.9" fill="#d05a5a" stroke="#000" stroke-width="1.5" stroke-linejoin="miter"/>
<polygon points="568.8,1197.2 574.1,1202.6 568.8,1207.9 563.4,1202.6" fill="#d05a5a" stroke="#000" stroke-width="1.5" stroke-linejoin="miter"/>
<polygon points="592.9,1198.4 598.2,1203.7 592.9,1209.0 587.5,1203.7" fill="#d05a5a" stroke="#000" stroke-width="1.5" stroke-linejoin="miter"/>
<polygon points="588.5,1208.2 593.9,1213.6 588.5,1218.9 583.1,1213.6" fill="#d05a5a" stroke="#000" stroke-width="1.5" stroke-linejoin="miter"/>
<polygon points="563.0,1168.7 568.4,1174.0 563.0,1179.3 557.6,1174.0" fill="#d05a5a" stroke="#000" stroke-width="1.5" stroke-linejoin="miter"/>
<polygon points="562.2,1164.8 567.7,1174.8 556.7,1174.8" fill="#e13424" stroke="#000" stroke-width="1.5" stroke-linejoin="miter"/>
<polygon points="582.4,1170.2 587.9,1180.2 576.9,1180.2" fill="#e13424" stroke="#000" stroke-width="1.5" stroke-linejoin="miter"/>
<polygon points="577.5,1181.2 583.0,1191.2 572.0,1191.2" fill="#e13424" stroke="#000" stroke-width="1.5" stroke-linejoin="miter"/>
<polygon points="590.7,1180.1 596.2,1190.0 585.2,1190.0" fill="#e13424" stroke="#000" stroke-width="1.5" stroke-linejoin="miter"/>
<polygon points="585.2,1184.5 590.7,1194.5 579.7,1194.5" fill="#e13424" stroke="#000" stroke-width="1.5" stroke-linejoin="miter"/>
<polygon points="558.9,1188.5 564.4,1198.4 553.4,1198.4" fill="#e13424" stroke="#000" stroke-width="1.5" stroke-linejoin="miter"/>
<polygon points="614.8,1182.3 620.3,1192.2 609.3,1192.2" fill="#e13424" stroke="#000" stroke-width="1.5" stroke-linejoin="miter"/>
<polygon points="617.0,1185.6 622.5,1195.5 611.5,1195.5" fill="#e13424" stroke="#000" stroke-width="1.5" stroke-linejoin="miter"/>
<polygon points="569.9,1213.6 575.4,1223.5 564.4,1223.5" fill="#e13424" stroke="#000" stroke-width="1.5" stroke-linejoin="miter"/>
<polygon points="579.7,1212.0 585.2,1221.9 574.2,1221.9" fill="#e13424" stroke="#000" stroke-width="1.5" stroke-linejoin="miter"/>
<polygon points="573.0,1209.0 578.5,1219.0 567.5,1219.0" fill="#e13424" stroke="#000" stroke-width="1.5" stroke-linejoin="miter"/>
</svg>
</body></html>
